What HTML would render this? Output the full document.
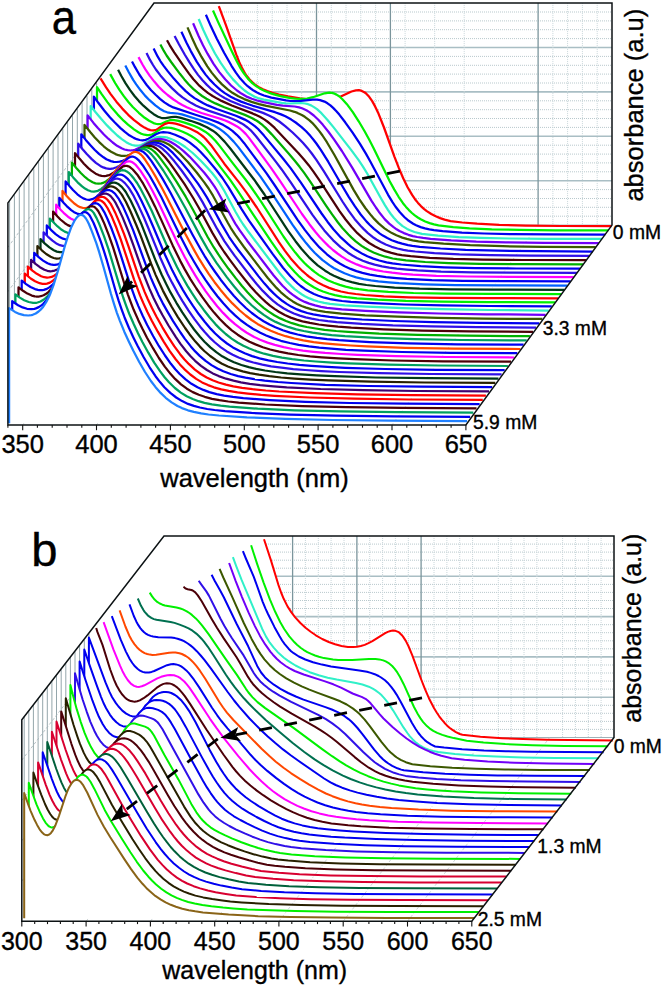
<!DOCTYPE html>
<html><head><meta charset="utf-8"><style>
html,body{margin:0;padding:0;background:#fff;}
svg{display:block;font-family:"Liberation Sans",sans-serif;}
text{fill:#000;stroke:#000;stroke-width:0.35px;}
</style></head><body>
<svg width="662" height="988" viewBox="0 0 662 988">
<rect width="662" height="988" fill="#fff"/>
<line x1="154" y1="216.2" x2="612" y2="216.2" stroke="#b9c9cd" stroke-width="1" stroke-dasharray="1 1"/>
<line x1="154" y1="207.3" x2="612" y2="207.3" stroke="#b9c9cd" stroke-width="1" stroke-dasharray="1 1"/>
<line x1="154" y1="198.5" x2="612" y2="198.5" stroke="#b9c9cd" stroke-width="1" stroke-dasharray="1 1"/>
<line x1="154" y1="189.6" x2="612" y2="189.6" stroke="#b9c9cd" stroke-width="1" stroke-dasharray="1 1"/>
<line x1="154" y1="180.7" x2="612" y2="180.7" stroke="#a9bec4" stroke-width="1.6"/>
<line x1="154" y1="171.8" x2="612" y2="171.8" stroke="#b9c9cd" stroke-width="1" stroke-dasharray="1 1"/>
<line x1="154" y1="162.9" x2="612" y2="162.9" stroke="#b9c9cd" stroke-width="1" stroke-dasharray="1 1"/>
<line x1="154" y1="154.1" x2="612" y2="154.1" stroke="#b9c9cd" stroke-width="1" stroke-dasharray="1 1"/>
<line x1="154" y1="145.2" x2="612" y2="145.2" stroke="#b9c9cd" stroke-width="1" stroke-dasharray="1 1"/>
<line x1="154" y1="136.3" x2="612" y2="136.3" stroke="#a9bec4" stroke-width="1.6"/>
<line x1="154" y1="127.4" x2="612" y2="127.4" stroke="#b9c9cd" stroke-width="1" stroke-dasharray="1 1"/>
<line x1="154" y1="118.5" x2="612" y2="118.5" stroke="#b9c9cd" stroke-width="1" stroke-dasharray="1 1"/>
<line x1="154" y1="109.7" x2="612" y2="109.7" stroke="#b9c9cd" stroke-width="1" stroke-dasharray="1 1"/>
<line x1="154" y1="100.8" x2="612" y2="100.8" stroke="#b9c9cd" stroke-width="1" stroke-dasharray="1 1"/>
<line x1="154" y1="91.9" x2="612" y2="91.9" stroke="#a9bec4" stroke-width="1.6"/>
<line x1="154" y1="83" x2="612" y2="83" stroke="#b9c9cd" stroke-width="1" stroke-dasharray="1 1"/>
<line x1="154" y1="74.1" x2="612" y2="74.1" stroke="#b9c9cd" stroke-width="1" stroke-dasharray="1 1"/>
<line x1="154" y1="65.3" x2="612" y2="65.3" stroke="#b9c9cd" stroke-width="1" stroke-dasharray="1 1"/>
<line x1="154" y1="56.4" x2="612" y2="56.4" stroke="#b9c9cd" stroke-width="1" stroke-dasharray="1 1"/>
<line x1="154" y1="47.5" x2="612" y2="47.5" stroke="#a9bec4" stroke-width="1.6"/>
<line x1="154" y1="38.6" x2="612" y2="38.6" stroke="#b9c9cd" stroke-width="1" stroke-dasharray="1 1"/>
<line x1="154" y1="29.7" x2="612" y2="29.7" stroke="#b9c9cd" stroke-width="1" stroke-dasharray="1 1"/>
<line x1="154" y1="20.9" x2="612" y2="20.9" stroke="#b9c9cd" stroke-width="1" stroke-dasharray="1 1"/>
<line x1="154" y1="12" x2="612" y2="12" stroke="#b9c9cd" stroke-width="1" stroke-dasharray="1 1"/>
<line x1="257.4" y1="3.1" x2="257.4" y2="225.1" stroke="#c9d6da" stroke-width="1" stroke-dasharray="1 1"/>
<line x1="272.2" y1="3.1" x2="272.2" y2="225.1" stroke="#c9d6da" stroke-width="1" stroke-dasharray="1 1"/>
<line x1="287" y1="3.1" x2="287" y2="225.1" stroke="#c9d6da" stroke-width="1" stroke-dasharray="1 1"/>
<line x1="301.7" y1="3.1" x2="301.7" y2="225.1" stroke="#c9d6da" stroke-width="1" stroke-dasharray="1 1"/>
<line x1="331.3" y1="3.1" x2="331.3" y2="225.1" stroke="#c9d6da" stroke-width="1" stroke-dasharray="1 1"/>
<line x1="346" y1="3.1" x2="346" y2="225.1" stroke="#c9d6da" stroke-width="1" stroke-dasharray="1 1"/>
<line x1="360.8" y1="3.1" x2="360.8" y2="225.1" stroke="#c9d6da" stroke-width="1" stroke-dasharray="1 1"/>
<line x1="375.6" y1="3.1" x2="375.6" y2="225.1" stroke="#c9d6da" stroke-width="1" stroke-dasharray="1 1"/>
<line x1="405.1" y1="3.1" x2="405.1" y2="225.1" stroke="#c9d6da" stroke-width="1" stroke-dasharray="1 1"/>
<line x1="434.7" y1="3.1" x2="434.7" y2="225.1" stroke="#c9d6da" stroke-width="1" stroke-dasharray="1 1"/>
<line x1="464.2" y1="3.1" x2="464.2" y2="225.1" stroke="#c9d6da" stroke-width="1" stroke-dasharray="1 1"/>
<line x1="552.9" y1="3.1" x2="552.9" y2="225.1" stroke="#c9d6da" stroke-width="1" stroke-dasharray="1 1"/>
<line x1="567.6" y1="3.1" x2="567.6" y2="225.1" stroke="#c9d6da" stroke-width="1" stroke-dasharray="1 1"/>
<line x1="582.4" y1="3.1" x2="582.4" y2="225.1" stroke="#c9d6da" stroke-width="1" stroke-dasharray="1 1"/>
<line x1="597.2" y1="3.1" x2="597.2" y2="225.1" stroke="#c9d6da" stroke-width="1" stroke-dasharray="1 1"/>
<line x1="316.5" y1="3.1" x2="316.5" y2="225.1" stroke="#7b959c" stroke-width="1.3"/>
<line x1="390.4" y1="3.1" x2="390.4" y2="225.1" stroke="#7b959c" stroke-width="1.3"/>
<line x1="538.1" y1="3.1" x2="538.1" y2="225.1" stroke="#7b959c" stroke-width="1.3"/>
<line x1="154" y1="225.1" x2="612" y2="225.1" stroke="#9fb2b8" stroke-width="1"/>
<line x1="9.6" y1="201.4" x2="9.6" y2="423.4" stroke="#94a6ab" stroke-width="1"/>
<line x1="14.4" y1="194.8" x2="14.4" y2="416.8" stroke="#94a6ab" stroke-width="1"/>
<line x1="19.3" y1="188.2" x2="19.3" y2="410.2" stroke="#94a6ab" stroke-width="1"/>
<line x1="24.1" y1="181.6" x2="24.1" y2="403.6" stroke="#94a6ab" stroke-width="1"/>
<line x1="28.9" y1="175" x2="28.9" y2="397" stroke="#94a6ab" stroke-width="1"/>
<line x1="33.8" y1="168.4" x2="33.8" y2="390.4" stroke="#94a6ab" stroke-width="1"/>
<line x1="38.6" y1="161.8" x2="38.6" y2="383.8" stroke="#94a6ab" stroke-width="1"/>
<line x1="43.4" y1="155.2" x2="43.4" y2="377.2" stroke="#94a6ab" stroke-width="1"/>
<line x1="48.3" y1="148.6" x2="48.3" y2="370.6" stroke="#94a6ab" stroke-width="1"/>
<line x1="53.1" y1="142" x2="53.1" y2="364" stroke="#94a6ab" stroke-width="1"/>
<line x1="58" y1="135.4" x2="58" y2="357.4" stroke="#94a6ab" stroke-width="1"/>
<line x1="62.8" y1="128.8" x2="62.8" y2="350.8" stroke="#94a6ab" stroke-width="1"/>
<line x1="67.6" y1="122.2" x2="67.6" y2="344.2" stroke="#94a6ab" stroke-width="1"/>
<line x1="72.5" y1="115.6" x2="72.5" y2="337.6" stroke="#94a6ab" stroke-width="1"/>
<line x1="77.3" y1="109" x2="77.3" y2="331" stroke="#94a6ab" stroke-width="1"/>
<line x1="82.1" y1="102.4" x2="82.1" y2="324.4" stroke="#94a6ab" stroke-width="1"/>
<line x1="87" y1="95.8" x2="87" y2="317.8" stroke="#94a6ab" stroke-width="1"/>
<line x1="91.8" y1="89.2" x2="91.8" y2="311.2" stroke="#94a6ab" stroke-width="1"/>
<line x1="96.6" y1="82.6" x2="96.6" y2="304.6" stroke="#94a6ab" stroke-width="1"/>
<line x1="7.9" y1="380.5" x2="154" y2="180.7" stroke="#a5b3b7" stroke-width="0.8" stroke-dasharray="3 2"/>
<line x1="7.9" y1="336.1" x2="154" y2="136.3" stroke="#a5b3b7" stroke-width="0.8" stroke-dasharray="3 2"/>
<line x1="7.9" y1="291.7" x2="154" y2="91.9" stroke="#a5b3b7" stroke-width="0.8" stroke-dasharray="3 2"/>
<line x1="7.9" y1="247.3" x2="154" y2="47.5" stroke="#a5b3b7" stroke-width="0.8" stroke-dasharray="3 2"/>
<line x1="22.7" y1="424.9" x2="168.8" y2="225.1" stroke="#b8c3c6" stroke-width="0.7" stroke-dasharray="3 2"/>
<line x1="96.5" y1="424.9" x2="242.6" y2="225.1" stroke="#b8c3c6" stroke-width="0.7" stroke-dasharray="3 2"/>
<line x1="170.4" y1="424.9" x2="316.5" y2="225.1" stroke="#b8c3c6" stroke-width="0.7" stroke-dasharray="3 2"/>
<line x1="244.3" y1="424.9" x2="390.4" y2="225.1" stroke="#b8c3c6" stroke-width="0.7" stroke-dasharray="3 2"/>
<line x1="318.1" y1="424.9" x2="464.2" y2="225.1" stroke="#b8c3c6" stroke-width="0.7" stroke-dasharray="3 2"/>
<line x1="392" y1="424.9" x2="538.1" y2="225.1" stroke="#b8c3c6" stroke-width="0.7" stroke-dasharray="3 2"/>
<g stroke-width="2.25" stroke-linejoin="round" fill="none">
<path d="M153.5,228.2l0-222 65.3,0 7.1,19 10.4,29.5 2.9,7.3 3,6.4 2.9,5.2 1.5,2.2 3,3.7 4.4,4.3 4.4,3.1 4.5,2.4 4.4,1.8 5.9,1.9 5.9,1.5 8.9,1.8 11.8,2 10.3,1.4 7.4,0.7 4.5,0.2 4.4-0.2 4.4-0.7 3-0.7 5.9-2.1 11.8-5.4 4.4-1.2 3-0.1 2.9,0.7 3,1.6 1.5,1.2 2.9,3.1 3,4.3 2.9,5.3 3,6.3 5.9,14.8 10.3,28.8 4.5,11.6 4.4,10.4 4.4,9 4.5,7.6 2.9,4.3 3,3.7 2.9,3.2 3,2.7 2.9,2.3 4.5,2.9 4.4,2.3 4.4,1.8 4.5,1.5 5.9,1.5 11.8,1.4 14.8,1.2 22.1,1.2 26.6,0.7 35.5,0.4 50.2,0.2 0,2z" fill="#fff"/>
<path d="M218.8,6.2l7.1,19 10.4,29.5 2.9,7.3 3,6.4 2.9,5.2 1.5,2.2 3,3.7 4.4,4.3 4.4,3.1 4.5,2.4 4.4,1.8 5.9,1.9 5.9,1.5 8.9,1.8 11.8,2 10.3,1.4 7.4,0.7 4.5,0.2 4.4-0.2 4.4-0.7 3-0.7 5.9-2.1 11.8-5.4 4.4-1.2 3-0.1 2.9,0.7 3,1.6 1.5,1.2 2.9,3.1 3,4.3 2.9,5.3 3,6.3 5.9,14.8 10.3,28.8 4.5,11.6 4.4,10.4 4.4,9 4.5,7.6 2.9,4.3 3,3.7 2.9,3.2 3,2.7 2.9,2.3 4.5,2.9 4.4,2.3 4.4,1.8 4.5,1.5 5.9,1.5 11.8,1.4 14.8,1.2 22.1,1.2 26.6,0.7 35.5,0.4 50.2,0.2" stroke="#ff0000"/>
<path d="M150.4,232.5l0-222 62.6,0 5.4,12.1 13.3,28.3 4.4,9.1 4.4,8.1 3,4.7 4.4,5.8 4.4,4.5 4.5,3.5 2.9,1.8 4.5,2.3 7.3,2.9 8.9,2.5 10.3,2 4.5,0.6 4.4,0.2 4.4-0.1 3-0.3 5.9-1.3 11.8-3.9 4.5-0.6 2.9,0.2 1.5,0.4 2.9,1.3 3,1.9 2.9,2.7 4.5,5 5.9,8 5.9,9.1 5.9,10 4.4,8 4.5,8.6 16.2,33.3 4.5,8.2 4.4,7.4 4.4,6.4 3,3.7 2.9,3.2 3,2.9 2.9,2.4 3,2.1 2.9,1.8 4.5,2.2 4.4,1.6 4.4,1.3 4.5,1 14.7,1.7 16.3,1.2 22.2,1 28,0.6 35.5,0.4 53.2,0.1 0,2.1z" fill="#fff"/>
<path d="M213,10.5l5.4,12.1 13.3,28.3 4.4,9.1 4.4,8.1 3,4.7 4.4,5.8 4.4,4.5 4.5,3.5 2.9,1.8 4.5,2.3 7.3,2.9 8.9,2.5 10.3,2 4.5,0.6 4.4,0.2 4.4-0.1 3-0.3 5.9-1.3 11.8-3.9 4.5-0.6 2.9,0.2 1.5,0.4 2.9,1.3 3,1.9 2.9,2.7 4.5,5 5.9,8 5.9,9.1 5.9,10 4.4,8 4.5,8.6 16.2,33.3 4.5,8.2 4.4,7.4 4.4,6.4 3,3.7 2.9,3.2 3,2.9 2.9,2.4 3,2.1 2.9,1.8 4.5,2.2 4.4,1.6 4.4,1.3 4.5,1 14.7,1.7 16.3,1.2 22.2,1 28,0.6 35.5,0.4 53.2,0.1" stroke="#00f000"/>
<path d="M147.3,236.7l0-222 58.6,0 4.9,11.4 5.9,12.4 7.4,14.2 7.4,13.1 4.4,6.9 4.4,5.9 4.5,4.9 2.9,2.7 3,2.3 2.9,2.1 3,1.7 2.9,1.5 4.5,1.7 7.4,2.1 14.7,2.8 4.5,0.6 4.4,0.2 5.9-0.3 11.8-1.3 4.4,0 3,0.5 4.4,1.5 3,1.7 2.9,2.1 3,2.7 3,3.1 2.9,3.4 5.9,7.7 7.4,10.4 7.4,11.2 5.9,9.7 4.4,7.9 17.8,33.3 4.4,7.3 2.9,4.4 4.5,5.8 4.4,4.7 4.4,3.8 4.5,2.9 2.9,1.5 4.5,1.9 4.4,1.3 4.4,1 4.5,0.7 8.8,1 19.2,1.5 22.2,0.9 28.1,0.7 36.9,0.3 56.1,0.2 0,2z" fill="#fff"/>
<path d="M205.9,14.7l4.9,11.4 5.9,12.4 7.4,14.2 7.4,13.1 4.4,6.9 4.4,5.9 4.5,4.9 2.9,2.7 3,2.3 2.9,2.1 3,1.7 2.9,1.5 4.5,1.7 7.4,2.1 14.7,2.8 4.5,0.6 4.4,0.2 5.9-0.3 11.8-1.3 4.4,0 3,0.5 4.4,1.5 3,1.7 2.9,2.1 3,2.7 3,3.1 2.9,3.4 5.9,7.7 7.4,10.4 7.4,11.2 5.9,9.7 4.4,7.9 17.8,33.3 4.4,7.3 2.9,4.4 4.5,5.8 4.4,4.7 4.4,3.8 4.5,2.9 2.9,1.5 4.5,1.9 4.4,1.3 4.4,1 4.5,0.7 8.8,1 19.2,1.5 22.2,0.9 28.1,0.7 36.9,0.3 56.1,0.2" stroke="#0000f0"/>
<path d="M144.1,241l0-222 54.6,0 4.5,10.7 5.9,12.6 5.9,11.2 5.9,9.7 5.9,8.5 6,7.4 5.9,6.2 5.9,5.2 4.4,3.1 4.4,2.5 4.5,1.9 5.9,1.6 17.7,3.2 4.4,0.6 4.5,0.1 10.3-0.5 4.4,0.5 3,0.7 3,1.2 2.9,1.7 3,2.1 4.4,4 5.9,6.5 5.9,7.2 17.7,22.7 7.4,10.1 4.5,6.6 4.4,7.2 13.3,24 4.4,7.6 3,4.7 2.9,4.2 3,3.7 4.4,4.7 4.4,3.7 4.5,2.8 2.9,1.4 4.5,1.7 7.4,1.9 16.2,1.8 20.7,1.4 22.1,0.8 28.1,0.6 36.9,0.3 56.2,0.1 0,2.1z" fill="#fff"/>
<path d="M198.7,19l4.5,10.7 5.9,12.6 5.9,11.2 5.9,9.7 5.9,8.5 6,7.4 5.9,6.2 5.9,5.2 4.4,3.1 4.4,2.5 4.5,1.9 5.9,1.6 17.7,3.2 4.4,0.6 4.5,0.1 10.3-0.5 4.4,0.5 3,0.7 3,1.2 2.9,1.7 3,2.1 4.4,4 5.9,6.5 5.9,7.2 17.7,22.7 7.4,10.1 4.5,6.6 4.4,7.2 13.3,24 4.4,7.6 3,4.7 2.9,4.2 3,3.7 4.4,4.7 4.4,3.7 4.5,2.8 2.9,1.4 4.5,1.7 7.4,1.9 16.2,1.8 20.7,1.4 22.1,0.8 28.1,0.6 36.9,0.3 56.2,0.1" stroke="#30f0c8"/>
<path d="M141,245.2l0-222 52.1,0 5.5,12.8 4.4,9.3 4.5,8.4 5.9,9.9 5.9,8.5 5.9,7.2 5.9,6.2 5.9,5 4.4,3.1 5.9,3.3 4.5,1.9 5.9,1.9 5.9,1.5 13.3,2.7 5.9,0.8 11.8,0.8 4.5,0.9 2.9,0.9 4.4,2 3,1.8 4.4,3.4 4.5,4.2 4.4,4.9 5.9,7.4 5.9,8.1 7.4,10.9 10.3,16.6 19.2,33 4.5,6.9 2.9,4.2 5.9,7.4 4.5,4.5 4.4,3.6 3,2.1 2.9,1.7 4.4,2.1 4.5,1.7 4.4,1.3 4.4,0.9 5.9,0.9 7.4,0.9 20.7,1.6 25.1,1.2 29.6,0.7 38.4,0.5 54.6,0.3 0,2.1z" fill="#fff"/>
<path d="M193.1,23.2l5.5,12.8 4.4,9.3 4.5,8.4 5.9,9.9 5.9,8.5 5.9,7.2 5.9,6.2 5.9,5 4.4,3.1 5.9,3.3 4.5,1.9 5.9,1.9 5.9,1.5 13.3,2.7 5.9,0.8 11.8,0.8 4.5,0.9 2.9,0.9 4.4,2 3,1.8 4.4,3.4 4.5,4.2 4.4,4.9 5.9,7.4 5.9,8.1 7.4,10.9 10.3,16.6 19.2,33 4.5,6.9 2.9,4.2 5.9,7.4 4.5,4.5 4.4,3.6 3,2.1 2.9,1.7 4.4,2.1 4.5,1.7 4.4,1.3 4.4,0.9 5.9,0.9 7.4,0.9 20.7,1.6 25.1,1.2 29.6,0.7 38.4,0.5 54.6,0.3" stroke="#7000f8"/>
<path d="M137.8,249.4l0-222 49.7,0 5,11.7 4.4,9.3 4.5,8.3 5.9,9.7 4.4,6.2 5.9,7.2 4.4,4.6 6,5.2 4.4,3.2 5.9,3.5 5.9,2.8 7.4,2.8 7.4,2.2 7.4,1.8 23.6,4.6 4.4,1.3 3,1.1 4.4,2.1 3,1.8 4.4,3.3 3,2.7 2.9,3.2 4.4,5.4 3,4.1 4.4,6.7 7.4,12.6 19.2,34.8 5.9,9.7 5.9,8.7 6,7.6 2.9,3.3 4.4,4.5 5.9,4.9 3,2.1 4.4,2.7 4.5,2.2 5.9,2.3 4.4,1.3 5.9,1.4 5.9,1 5.9,0.8 19.2,1.6 26.6,1.5 32.5,1 39.9,0.7 53.2,0.3 0,2.2z" fill="#fff"/>
<path d="M187.5,27.4l5,11.7 4.4,9.3 4.5,8.3 5.9,9.7 4.4,6.2 5.9,7.2 4.4,4.6 6,5.2 4.4,3.2 5.9,3.5 5.9,2.8 7.4,2.8 7.4,2.2 7.4,1.8 23.6,4.6 4.4,1.3 3,1.1 4.4,2.1 3,1.8 4.4,3.3 3,2.7 2.9,3.2 4.4,5.4 3,4.1 4.4,6.7 7.4,12.6 19.2,34.8 5.9,9.7 5.9,8.7 6,7.6 2.9,3.3 4.4,4.5 5.9,4.9 3,2.1 4.4,2.7 4.5,2.2 5.9,2.3 4.4,1.3 5.9,1.4 5.9,1 5.9,0.8 19.2,1.6 26.6,1.5 32.5,1 39.9,0.7 53.2,0.3" stroke="#3c5800"/>
<path d="M134.7,253.7l0-222 46.7,0 5,10.7 4.4,8.7 5.9,10.5 4.5,6.9 4.4,6.1 4.4,5.3 4.5,4.6 5.9,5.3 4.4,3.3 5.9,3.6 4.5,2.3 5.9,2.6 5.9,2.2 5.9,2 22.1,6.4 6,2.2 4.4,1.9 5.9,3.3 4.4,2.9 5.9,4.6 4.5,4.2 4.4,4.8 3,3.6 2.9,3.8 4.4,6.4 7.4,11.8 14.8,25.5 5.9,9.9 5.9,9.1 5.9,8.3 5.9,7.1 3,3.1 4.4,4.2 5.9,4.7 3,2 4.4,2.5 4.5,2.1 5.9,2.2 4.4,1.3 5.9,1.4 4.4,0.8 7.4,0.9 20.7,1.7 25.1,1.3 32.5,0.9 39.9,0.5 54.7,0.3 0,2.2z" fill="#fff"/>
<path d="M181.4,31.7l5,10.7 4.4,8.7 5.9,10.5 4.5,6.9 4.4,6.1 4.4,5.3 4.5,4.6 5.9,5.3 4.4,3.3 5.9,3.6 4.5,2.3 5.9,2.6 5.9,2.2 5.9,2 22.1,6.4 6,2.2 4.4,1.9 5.9,3.3 4.4,2.9 5.9,4.6 4.5,4.2 4.4,4.8 3,3.6 2.9,3.8 4.4,6.4 7.4,11.8 14.8,25.5 5.9,9.9 5.9,9.1 5.9,8.3 5.9,7.1 3,3.1 4.4,4.2 5.9,4.7 3,2 4.4,2.5 4.5,2.1 5.9,2.2 4.4,1.3 5.9,1.4 4.4,0.8 7.4,0.9 20.7,1.7 25.1,1.3 32.5,0.9 39.9,0.5 54.7,0.3" stroke="#0000f0"/>
<path d="M131.6,257.9l0-222 43,0 4.2,8.1 5.9,10.5 4.5,7.4 4.4,6.8 4.4,6.2 4.5,5.4 4.4,4.6 4.4,4.1 4.5,3.4 4.4,3 4.4,2.6 5.9,3 10.4,4.3 22.1,7.6 5.9,2.6 4.5,2.2 5.9,3.8 5.9,4.6 7.4,6.4 5.9,5.7 4.4,4.6 4.5,5.1 4.4,5.6 4.4,6.2 7.4,11.2 19.2,31.1 5.9,8.9 5.9,8 5.9,6.9 3,3.1 4.4,4.2 5.9,4.7 3,1.9 4.4,2.6 4.5,2.2 5.9,2.3 5.9,1.7 5.9,1.4 4.4,0.7 7.4,0.9 19.2,1.6 25.1,1.3 31,0.7 39.9,0.5 59.1,0.2 0,2.1z" fill="#fff"/>
<path d="M174.6,35.9l4.2,8.1 5.9,10.5 4.5,7.4 4.4,6.8 4.4,6.2 4.5,5.4 4.4,4.6 4.4,4.1 4.5,3.4 4.4,3 4.4,2.6 5.9,3 10.4,4.3 22.1,7.6 5.9,2.6 4.5,2.2 5.9,3.8 5.9,4.6 7.4,6.4 5.9,5.7 4.4,4.6 4.5,5.1 4.4,5.6 4.4,6.2 7.4,11.2 19.2,31.1 5.9,8.9 5.9,8 5.9,6.9 3,3.1 4.4,4.2 5.9,4.7 3,1.9 4.4,2.6 4.5,2.2 5.9,2.3 5.9,1.7 5.9,1.4 4.4,0.7 7.4,0.9 19.2,1.6 25.1,1.3 31,0.7 39.9,0.5 59.1,0.2" stroke="#3010e8"/>
<path d="M128.4,262.2l0-222 38.6,0 2.8,5.1 4.4,7 8.9,13 5.9,8.3 4.4,5.7 3,3.3 2.9,3.1 4.5,4 4.4,3.4 4.4,2.9 4.5,2.6 4.4,2.3 10.3,4.6 20.7,7.9 7.4,3.4 4.4,2.6 3,2.1 2.9,2.3 4.5,4.1 23.6,25 5.9,6.8 4.5,5.5 4.4,6 5.9,8.5 20.7,31.6 5.9,8.2 5.9,7.3 5.9,6.4 5.9,5.3 5.9,4.5 5.9,3.5 4.5,2.2 5.9,2.4 5.9,1.8 5.9,1.4 4.4,0.9 8.9,1 19.2,1.6 23.6,1.1 29.6,0.7 39.9,0.4 63.5,0.1 0,2.1z" fill="#fff"/>
<path d="M167,40.2l2.8,5.1 4.4,7 8.9,13 5.9,8.3 4.4,5.7 3,3.3 2.9,3.1 4.5,4 4.4,3.4 4.4,2.9 4.5,2.6 4.4,2.3 10.3,4.6 20.7,7.9 7.4,3.4 4.4,2.6 3,2.1 2.9,2.3 4.5,4.1 23.6,25 5.9,6.8 4.5,5.5 4.4,6 5.9,8.5 20.7,31.6 5.9,8.2 5.9,7.3 5.9,6.4 5.9,5.3 5.9,4.5 5.9,3.5 4.5,2.2 5.9,2.4 5.9,1.8 5.9,1.4 4.4,0.9 8.9,1 19.2,1.6 23.6,1.1 29.6,0.7 39.9,0.4 63.5,0.1" stroke="#4c0008"/>
<path d="M125.3,266.4l0-222 35.1,0 3.3,6.3 2.9,4.8 4.5,6.5 8.8,11.8 4.5,5.6 4.4,5.1 4.4,4.4 4.5,3.8 4.4,3.3 4.4,2.8 4.5,2.4 4.4,2.2 8.9,3.8 20.6,7.7 7.4,3.3 4.5,2.6 2.9,2 3,2.4 2.9,2.7 5.9,6.2 17.8,20.1 5.9,7 4.4,5.6 4.4,5.9 5.9,8.4 16.3,24.7 5.9,8.6 5.9,8.1 4.4,5.5 6,6.5 2.9,2.9 4.4,4 5.9,4.5 3,1.9 4.4,2.5 4.5,2.2 5.9,2.3 5.9,1.9 7.4,1.8 4.4,0.7 8.9,1.1 19.2,1.7 23.6,1.1 31,0.8 39.9,0.3 63.5,0.2 0,2z" fill="#fff"/>
<path d="M160.4,44.4l3.3,6.3 2.9,4.8 4.5,6.5 8.8,11.8 4.5,5.6 4.4,5.1 4.4,4.4 4.5,3.8 4.4,3.3 4.4,2.8 4.5,2.4 4.4,2.2 8.9,3.8 20.6,7.7 7.4,3.3 4.5,2.6 2.9,2 3,2.4 2.9,2.7 5.9,6.2 17.8,20.1 5.9,7 4.4,5.6 4.4,5.9 5.9,8.4 16.3,24.7 5.9,8.6 5.9,8.1 4.4,5.5 6,6.5 2.9,2.9 4.4,4 5.9,4.5 3,1.9 4.4,2.5 4.5,2.2 5.9,2.3 5.9,1.9 7.4,1.8 4.4,0.7 8.9,1.1 19.2,1.7 23.6,1.1 31,0.8 39.9,0.3 63.5,0.2" stroke="#00b000"/>
<path d="M122.1,270.6l0-222 31.5,0 4,7.8 2.9,4.9 3,4.3 4.4,5.8 5.9,7.2 6,6.7 5.9,5.8 4.4,3.7 4.4,3.3 4.5,2.7 4.4,2.4 4.4,2.2 8.9,3.6 19.2,6.8 4.4,1.8 4.5,2 4.4,2.5 2.9,2 3,2.2 3,2.7 5.9,6.6 19.2,23.1 7.4,9.4 10.3,14.5 20.7,30.9 5.9,8.2 5.9,7.5 7.4,8.2 7.4,6.8 2.9,2.4 4.5,3.2 7.3,4.3 4.5,2.2 5.9,2.3 5.9,1.9 7.4,1.8 5.9,1 8.8,1.2 19.3,1.7 23.6,1.1 31,0.8 41.4,0.4 63.5,0.1 0,2z" fill="#fff"/>
<path d="M153.6,48.6l4,7.8 2.9,4.9 3,4.3 4.4,5.8 5.9,7.2 6,6.7 5.9,5.8 4.4,3.7 4.4,3.3 4.5,2.7 4.4,2.4 4.4,2.2 8.9,3.6 19.2,6.8 4.4,1.8 4.5,2 4.4,2.5 2.9,2 3,2.2 3,2.7 5.9,6.6 19.2,23.1 7.4,9.4 10.3,14.5 20.7,30.9 5.9,8.2 5.9,7.5 7.4,8.2 7.4,6.8 2.9,2.4 4.5,3.2 7.3,4.3 4.5,2.2 5.9,2.3 5.9,1.9 7.4,1.8 5.9,1 8.8,1.2 19.3,1.7 23.6,1.1 31,0.8 41.4,0.4 63.5,0.1" stroke="#0000f0"/>
<path d="M119,274.9l0-222 27.5,0 3.5,7 3,5.1 2.9,4.5 4.5,5.9 5.9,6.9 5.9,6.1 5.9,5.4 4.4,3.6 4.5,3 4.4,2.7 4.4,2.3 4.5,2.1 8.8,3.4 19.2,6.4 4.5,1.7 4.4,2 4.4,2.4 3,1.9 2.9,2.2 3,2.6 2.9,3.1 3,3.5 19.2,24.7 5.9,7.8 8.9,12.6 22.1,33 5.9,8.1 5.9,7.5 4.5,5.2 4.4,4.7 7.4,6.8 7.4,5.6 4.4,2.8 4.4,2.4 6,2.8 5.9,2.2 5.9,1.7 7.4,1.8 7.3,1.2 7.4,1 10.4,1 10.3,0.8 23.7,1.2 31,0.7 41.3,0.4 63.6,0.1 0,2.1z" fill="#fff"/>
<path d="M146.5,52.9l3.5,7 3,5.1 2.9,4.5 4.5,5.9 5.9,6.9 5.9,6.1 5.9,5.4 4.4,3.6 4.5,3 4.4,2.7 4.4,2.3 4.5,2.1 8.8,3.4 19.2,6.4 4.5,1.7 4.4,2 4.4,2.4 3,1.9 2.9,2.2 3,2.6 2.9,3.1 3,3.5 19.2,24.7 5.9,7.8 8.9,12.6 22.1,33 5.9,8.1 5.9,7.5 4.5,5.2 4.4,4.7 7.4,6.8 7.4,5.6 4.4,2.8 4.4,2.4 6,2.8 5.9,2.2 5.9,1.7 7.4,1.8 7.3,1.2 7.4,1 10.4,1 10.3,0.8 23.7,1.2 31,0.7 41.3,0.4 63.6,0.1" stroke="#3010e8"/>
<path d="M115.9,279.1l0-222 22.6,0 4,7.4 2.9,4.9 4.4,6.5 4.5,5.7 4.4,5.1 4.4,4.4 4.5,3.9 5.9,4.5 4.4,2.9 4.4,2.5 4.5,2.3 5.9,2.6 8.8,3.2 19.2,5.9 4.5,1.6 4.4,1.9 4.4,2.3 3,1.7 3,2.1 2.9,2.6 3,3 2.9,3.5 22.2,30.3 8.8,12.8 22.2,33.3 7.4,10.2 5.9,7.6 4.4,5.2 4.5,4.7 4.4,4.4 4.4,3.9 4.5,3.5 4.4,3.1 4.4,2.8 4.5,2.3 5.9,2.7 5.9,2.2 5.9,1.8 7.4,1.8 7.4,1.3 8.8,1.2 10.4,1.1 10.3,0.8 23.6,1.2 31.1,0.7 41.3,0.4 65,0.2 0,2z" fill="#fff"/>
<path d="M138.5,57.1l4,7.4 2.9,4.9 4.4,6.5 4.5,5.7 4.4,5.1 4.4,4.4 4.5,3.9 5.9,4.5 4.4,2.9 4.4,2.5 4.5,2.3 5.9,2.6 8.8,3.2 19.2,5.9 4.5,1.6 4.4,1.9 4.4,2.3 3,1.7 3,2.1 2.9,2.6 3,3 2.9,3.5 22.2,30.3 8.8,12.8 22.2,33.3 7.4,10.2 5.9,7.6 4.4,5.2 4.5,4.7 4.4,4.4 4.4,3.9 4.5,3.5 4.4,3.1 4.4,2.8 4.5,2.3 5.9,2.7 5.9,2.2 5.9,1.8 7.4,1.8 7.4,1.3 8.8,1.2 10.4,1.1 10.3,0.8 23.6,1.2 31.1,0.7 41.3,0.4 65,0.2" stroke="#ff00ff"/>
<path d="M112.7,283.4l0-222 19.3,0 2.9,5.5 4.4,7.6 3,4.4 4.4,6.1 4.4,5.2 4.5,4.6 4.4,4.1 4.4,3.5 4.5,2.8 4.4,2.2 22.1,7.4 14.8,4.7 8.9,3.4 4.4,2.2 4.4,2.6 4.5,3.2 4.4,3.9 3,3.1 4.4,5.3 22.2,30 8.8,12.8 22.2,33.6 7.4,10.3 5.9,7.5 4.4,5.2 4.4,4.8 7.4,6.9 4.5,3.5 4.4,3.2 4.4,2.8 4.5,2.4 5.9,2.7 5.9,2.2 5.9,1.8 7.4,1.7 7.4,1.3 8.8,1.2 10.4,1 10.3,0.8 25.1,1.2 31,0.7 41.4,0.4 66.5,0.1 0,2.1z" fill="#fff"/>
<path d="M132,61.4l2.9,5.5 4.4,7.6 3,4.4 4.4,6.1 4.4,5.2 4.5,4.6 4.4,4.1 4.4,3.5 4.5,2.8 4.4,2.2 22.1,7.4 14.8,4.7 8.9,3.4 4.4,2.2 4.4,2.6 4.5,3.2 4.4,3.9 3,3.1 4.4,5.3 22.2,30 8.8,12.8 22.2,33.6 7.4,10.3 5.9,7.5 4.4,5.2 4.4,4.8 7.4,6.9 4.5,3.5 4.4,3.2 4.4,2.8 4.5,2.4 5.9,2.7 5.9,2.2 5.9,1.8 7.4,1.7 7.4,1.3 8.8,1.2 10.4,1 10.3,0.8 25.1,1.2 31,0.7 41.4,0.4 66.5,0.1" stroke="#0000f0"/>
<path d="M109.6,287.6l0-222 15.7,0 3.5,6.7 4.4,7.6 3,4.4 4.4,6 4.4,5.3 4.5,4.6 5.9,5.2 4.4,3.3 4.4,2.5 3,1.1 2.9,0.6 7.4,0.6 4.5,0.9 16.2,5.1 8.9,3.1 5.9,2.5 5.9,3.3 4.4,3.2 4.5,3.9 5.9,6.1 4.4,5.3 22.2,29.5 10.3,15 22.2,33.8 7.4,10.3 5.9,7.6 4.4,5.2 4.4,4.7 7.4,6.8 7.4,5.6 4.4,2.8 4.5,2.4 5.9,2.7 5.9,2.2 5.9,1.8 7.4,1.8 7.4,1.2 7.3,1 10.4,1 10.3,0.8 25.1,1.2 31.1,0.8 42.8,0.3 69.4,0.2 0,2z" fill="#fff"/>
<path d="M125.3,65.6l3.5,6.7 4.4,7.6 3,4.4 4.4,6 4.4,5.3 4.5,4.6 5.9,5.2 4.4,3.3 4.4,2.5 3,1.1 2.9,0.6 7.4,0.6 4.5,0.9 16.2,5.1 8.9,3.1 5.9,2.5 5.9,3.3 4.4,3.2 4.5,3.9 5.9,6.1 4.4,5.3 22.2,29.5 10.3,15 22.2,33.8 7.4,10.3 5.9,7.6 4.4,5.2 4.4,4.7 7.4,6.8 7.4,5.6 4.4,2.8 4.5,2.4 5.9,2.7 5.9,2.2 5.9,1.8 7.4,1.8 7.4,1.2 7.3,1 10.4,1 10.3,0.8 25.1,1.2 31.1,0.8 42.8,0.3 69.4,0.2" stroke="#0060ff"/>
<path d="M106.4,291.8l0-222 11.7,0 3.1,6 4.4,7.6 4.5,6.7 4.4,5.9 4.4,5.1 4.5,4.6 5.9,5.2 4.4,3.3 4.4,2.5 3,1.1 1.5,0.3 2.9,0.1 5.9-1.1 3-0.2 1.5,0 2.9,0.5 3,0.7 8.8,2.7 8.9,3.1 7.4,3.3 5.9,3.5 3,2.2 2.9,2.6 5.9,6.1 5.9,7.1 23.7,31 10.3,14.8 23.6,36.3 7.4,10.4 5.9,7.6 7.4,8.3 4.5,4.3 4.4,3.9 7.4,5.4 4.4,2.7 4.4,2.3 6,2.7 5.9,2.1 5.9,1.7 7.4,1.6 7.3,1.2 8.9,1 19.2,1.6 25.1,1.1 31.1,0.6 42.8,0.4 70.9,0.1 0,2z" fill="#fff"/>
<path d="M118.1,69.8l3.1,6 4.4,7.6 4.5,6.7 4.4,5.9 4.4,5.1 4.5,4.6 5.9,5.2 4.4,3.3 4.4,2.5 3,1.1 1.5,0.3 2.9,0.1 5.9-1.1 3-0.2 1.5,0 2.9,0.5 3,0.7 8.8,2.7 8.9,3.1 7.4,3.3 5.9,3.5 3,2.2 2.9,2.6 5.9,6.1 5.9,7.1 23.7,31 10.3,14.8 23.6,36.3 7.4,10.4 5.9,7.6 7.4,8.3 4.5,4.3 4.4,3.9 7.4,5.4 4.4,2.7 4.4,2.3 6,2.7 5.9,2.1 5.9,1.7 7.4,1.6 7.3,1.2 8.9,1 19.2,1.6 25.1,1.1 31.1,0.6 42.8,0.4 70.9,0.1" stroke="#003818"/>
<path d="M103.3,296.1l0-222 6.9,0 4.9,8.9 4.5,7.1 4.4,6.3 4.4,5.6 4.4,5 6,5.8 5.9,5 4.4,3 4.4,2.3 3,0.9 1.5,0.2 2.9-0.4 1.5-0.5 4.4-2.1 3-1 1.5-0.2 2.9,0.1 4.4,0.8 6,1.7 5.9,2 4.4,1.7 4.4,2 5.9,3.4 3,2.2 2.9,2.5 4.5,4.6 4.4,5.4 13.3,17.5 11.8,15.1 5.9,8 10.4,15.1 22.1,34.4 5.9,8.4 5.9,7.7 4.5,5.3 4.4,4.8 3,2.9 4.4,3.9 3,2.4 4.4,3.2 4.4,2.7 4.4,2.4 6,2.6 5.9,2.1 5.9,1.7 7.4,1.7 5.9,0.9 8.8,1.1 20.7,1.6 25.1,1.1 32.5,0.6 44.4,0.3 70.9,0.2 0,2z" fill="#fff"/>
<path d="M110.2,74.1l4.9,8.9 4.5,7.1 4.4,6.3 4.4,5.6 4.4,5 6,5.8 5.9,5 4.4,3 4.4,2.3 3,0.9 1.5,0.2 2.9-0.4 1.5-0.5 4.4-2.1 3-1 1.5-0.2 2.9,0.1 4.4,0.8 6,1.7 5.9,2 4.4,1.7 4.4,2 5.9,3.4 3,2.2 2.9,2.5 4.5,4.6 4.4,5.4 13.3,17.5 11.8,15.1 5.9,8 10.4,15.1 22.1,34.4 5.9,8.4 5.9,7.7 4.5,5.3 4.4,4.8 3,2.9 4.4,3.9 3,2.4 4.4,3.2 4.4,2.7 4.4,2.4 6,2.6 5.9,2.1 5.9,1.7 7.4,1.7 5.9,0.9 8.8,1.1 20.7,1.6 25.1,1.1 32.5,0.6 44.4,0.3 70.9,0.2" stroke="#00f000"/>
<path d="M100.2,300.3l0-222 0.3,0 5.6,9 4.4,6.5 5.9,7.9 5.9,6.9 5.9,6.2 5.9,5.3 5.9,4.6 4.5,2.9 2.9,1.5 3,1 2.9,0.3 1.5-0.2 1.5-0.5 1.5-0.8 4.4-3.3 3-1.8 2.9-0.8 1.5-0.2 2.9,0.3 3,0.6 4.4,1.2 5.9,2.1 4.5,1.8 4.4,2.1 3,1.7 2.9,2 3,2.4 2.9,2.9 4.5,5.3 13.3,18.5 14.7,18.7 7.4,9.9 10.4,15.2 22.1,34.6 5.9,8.5 5.9,7.8 7.4,8.4 4.5,4.4 4.4,3.8 2.9,2.3 4.5,3.1 4.4,2.7 4.4,2.2 5.9,2.6 6,2 5.9,1.6 7.3,1.5 7.4,1 8.9,1 19.2,1.3 25.1,1 32.5,0.6 44.3,0.3 72.4,0.1 0,2z" fill="#fff"/>
<path d="M100.5,78.3l5.6,9 4.4,6.5 5.9,7.9 5.9,6.9 5.9,6.2 5.9,5.3 5.9,4.6 4.5,2.9 2.9,1.5 3,1 2.9,0.3 1.5-0.2 1.5-0.5 1.5-0.8 4.4-3.3 3-1.8 2.9-0.8 1.5-0.2 2.9,0.3 3,0.6 4.4,1.2 5.9,2.1 4.5,1.8 4.4,2.1 3,1.7 2.9,2 3,2.4 2.9,2.9 4.5,5.3 13.3,18.5 14.7,18.7 7.4,9.9 10.4,15.2 22.1,34.6 5.9,8.5 5.9,7.8 7.4,8.4 4.5,4.4 4.4,3.8 2.9,2.3 4.5,3.1 4.4,2.7 4.4,2.2 5.9,2.6 6,2 5.9,1.6 7.3,1.5 7.4,1 8.9,1 19.2,1.3 25.1,1 32.5,0.6 44.3,0.3 72.4,0.1" stroke="#ff0000"/>
<path d="M97,304.6l0-217.4 4.5,6.7 5.9,8.2 4.4,5.7 5.9,6.8 5.9,6.1 4.4,4 6,4.7 4.4,2.8 2.9,1.5 3,1 2.9,0.5 1.5,0 3-0.7 1.5-0.6 7.3-4.8 3-1.2 3-0.4 4.4,0.4 2.9,0.7 4.5,1.4 4.4,1.8 4.4,2 4.5,2.4 2.9,1.9 3,2.2 2.9,2.5 4.5,4.5 4.4,5.3 20.7,27 7.4,10.7 16.2,24.9 17.7,26.5 8.9,12.6 7.4,9.6 7.4,8.4 4.4,4.4 3,2.6 2.9,2.4 4.5,3.1 4.4,2.7 4.4,2.2 4.4,1.8 6,2 5.9,1.6 7.4,1.5 4.4,0.6 10.3,1.1 20.7,1.4 28.1,1.2 35.4,0.7 47.3,0.5 66.5,0.3 0,2.2z" fill="#fff"/>
<path d="M97,304.6l0-217.4 4.5,6.7 5.9,8.2 4.4,5.7 5.9,6.8 5.9,6.1 4.4,4 6,4.7 4.4,2.8 2.9,1.5 3,1 2.9,0.5 1.5,0 3-0.7 1.5-0.6 7.3-4.8 3-1.2 3-0.4 4.4,0.4 2.9,0.7 4.5,1.4 4.4,1.8 4.4,2 4.5,2.4 2.9,1.9 3,2.2 2.9,2.5 4.5,4.5 4.4,5.3 20.7,27 7.4,10.7 16.2,24.9 17.7,26.5 8.9,12.6 7.4,9.6 7.4,8.4 4.4,4.4 3,2.6 2.9,2.4 4.5,3.1 4.4,2.7 4.4,2.2 4.4,1.8 6,2 5.9,1.6 7.4,1.5 4.4,0.6 10.3,1.1 20.7,1.4 28.1,1.2 35.4,0.7 47.3,0.5 66.5,0.3" stroke="#00f000"/>
<path d="M93.9,308.8l0-212.2 4.4,6.2 5.9,7.7 5.9,7 4.5,4.8 5.9,5.8 4.4,3.8 4.4,3.4 4.5,2.6 2.9,1.3 3,0.8 2.9,0.3 1.5-0.2 1.5-0.2 2.9-1.1 7.4-4.5 3-1.3 1.5-0.5 2.9-0.4 4.4,0.4 3,0.7 4.4,1.5 7.4,3.4 4.4,2.5 3,2 5.9,4.7 4.4,4.2 6,6.4 10.3,12.4 5.9,7.7 5.9,8.9 13.3,22.3 7.4,11.5 23.6,33.2 10.4,13.8 7.4,8.6 4.4,4.5 2.9,2.7 3,2.5 4.4,3.2 4.5,2.6 4.4,2.2 4.4,1.8 5.9,1.9 5.9,1.4 6,1 5.9,0.9 8.8,0.8 22.2,1.4 31,1.3 38.4,0.9 47.3,0.6 62,0.4 0,2.4z" fill="#fff"/>
<path d="M93.9,308.8l0-212.2 4.4,6.2 5.9,7.7 5.9,7 4.5,4.8 5.9,5.8 4.4,3.8 4.4,3.4 4.5,2.6 2.9,1.3 3,0.8 2.9,0.3 1.5-0.2 1.5-0.2 2.9-1.1 7.4-4.5 3-1.3 1.5-0.5 2.9-0.4 4.4,0.4 3,0.7 4.4,1.5 7.4,3.4 4.4,2.5 3,2 5.9,4.7 4.4,4.2 6,6.4 10.3,12.4 5.9,7.7 5.9,8.9 13.3,22.3 7.4,11.5 23.6,33.2 10.4,13.8 7.4,8.6 4.4,4.5 2.9,2.7 3,2.5 4.4,3.2 4.5,2.6 4.4,2.2 4.4,1.8 5.9,1.9 5.9,1.4 6,1 5.9,0.9 8.8,0.8 22.2,1.4 31,1.3 38.4,0.9 47.3,0.6 62,0.4" stroke="#0000f0"/>
<path d="M90.7,313l0-207 4.5,5.7 5.9,7.1 5.9,6.6 4.4,4.5 5.9,5.6 4.5,3.6 4.4,3.1 2.9,1.6 3,1.2 3,0.6 2.9,0 1.5-0.2 1.5-0.4 2.9-1.2 7.4-4.3 4.4-1.9 1.5-0.4 3-0.4 4.4,0.2 3,0.7 2.9,1.1 3,1.2 4.4,2.3 4.4,2.7 3,2 7.4,6 7.4,7 7.3,7.7 4.5,5 4.4,5.6 3,4.3 4.4,7.2 11.8,21.9 4.4,7.6 3,4.7 5.9,8.3 31,41 7.4,8.6 4.5,4.5 2.9,2.7 3,2.3 4.4,3.1 2.9,1.7 4.5,2.2 4.4,1.7 4.4,1.4 6,1.4 5.9,0.9 14.7,1.5 22.2,1.3 35.5,1.5 39.8,1.1 47.3,0.8 59.1,0.5 0,2.5z" fill="#fff"/>
<path d="M90.7,313l0-207 4.5,5.7 5.9,7.1 5.9,6.6 4.4,4.5 5.9,5.6 4.5,3.6 4.4,3.1 2.9,1.6 3,1.2 3,0.6 2.9,0 1.5-0.2 1.5-0.4 2.9-1.2 7.4-4.3 4.4-1.9 1.5-0.4 3-0.4 4.4,0.2 3,0.7 2.9,1.1 3,1.2 4.4,2.3 4.4,2.7 3,2 7.4,6 7.4,7 7.3,7.7 4.5,5 4.4,5.6 3,4.3 4.4,7.2 11.8,21.9 4.4,7.6 3,4.7 5.9,8.3 31,41 7.4,8.6 4.5,4.5 2.9,2.7 3,2.3 4.4,3.1 2.9,1.7 4.5,2.2 4.4,1.7 4.4,1.4 6,1.4 5.9,0.9 14.7,1.5 22.2,1.3 35.5,1.5 39.8,1.1 47.3,0.8 59.1,0.5" stroke="#30f0c8"/>
<path d="M87.6,317.3l0-201.9 5.9,7.5 4.4,5.2 6,6.4 4.4,4.2 4.4,3.8 4.4,3.3 4.5,2.5 2.9,1.2 3,0.7 2.9,0.3 3-0.3 1.5-0.4 4.4-1.9 8.9-5.5 2.9-1.6 4.5-1.5 4.4-0.4 4.4,0.7 3,0.9 2.9,1.3 5.9,3.5 3,2.2 4.4,3.6 5.9,5.5 7.4,7.8 7.4,8.4 5.9,7.5 4.4,6.4 3,4.8 14.8,27 2.9,5.1 4.5,6.8 7.3,10.3 26.6,34.8 4.5,5.3 4.4,4.9 4.4,4.3 3,2.6 2.9,2.3 4.5,3.1 2.9,1.7 4.5,2.2 4.4,1.7 5.9,1.8 5.9,1.4 5.9,1 14.8,1.6 23.6,1.5 34,1.5 39.9,1.1 47.3,0.8 59.1,0.5 0,2.5z" fill="#fff"/>
<path d="M87.6,317.3l0-201.9 5.9,7.5 4.4,5.2 6,6.4 4.4,4.2 4.4,3.8 4.4,3.3 4.5,2.5 2.9,1.2 3,0.7 2.9,0.3 3-0.3 1.5-0.4 4.4-1.9 8.9-5.5 2.9-1.6 4.5-1.5 4.4-0.4 4.4,0.7 3,0.9 2.9,1.3 5.9,3.5 3,2.2 4.4,3.6 5.9,5.5 7.4,7.8 7.4,8.4 5.9,7.5 4.4,6.4 3,4.8 14.8,27 2.9,5.1 4.5,6.8 7.3,10.3 26.6,34.8 4.5,5.3 4.4,4.9 4.4,4.3 3,2.6 2.9,2.3 4.5,3.1 2.9,1.7 4.5,2.2 4.4,1.7 5.9,1.8 5.9,1.4 5.9,1 14.8,1.6 23.6,1.5 34,1.5 39.9,1.1 47.3,0.8 59.1,0.5" stroke="#7000f8"/>
<path d="M84.5,321.5l0-196.6 5.9,7.4 4.4,5.1 4.4,4.7 4.5,4.2 4.4,3.5 3,2 4.4,2.3 2.9,1.1 3,0.6 2.9,0.1 3-0.4 3-0.9 4.4-2.3 8.9-6.2 4.4-2.6 4.4-1.8 3-0.7 2.9-0.1 1.5,0.1 1.5,0.3 2.9,0.9 4.5,2.3 2.9,2 3,2.3 5.9,5.4 7.4,7.8 8.8,10.5 7.4,9.6 4.5,6.4 4.4,7.2 14.8,27.1 2.9,5 4.4,6.9 8.9,12.3 16.3,21.4 7.3,9.3 4.5,5.3 4.4,4.9 4.4,4.4 4.5,3.8 2.9,2.3 4.5,3 4.4,2.5 4.4,2.1 4.5,1.6 5.9,1.8 5.9,1.3 7.4,1.2 16.2,1.8 23.6,1.6 32.5,1.4 39.9,1.1 45.8,0.8 59.1,0.4 0,2.5z" fill="#fff"/>
<path d="M84.5,321.5l0-196.6 5.9,7.4 4.4,5.1 4.4,4.7 4.5,4.2 4.4,3.5 3,2 4.4,2.3 2.9,1.1 3,0.6 2.9,0.1 3-0.4 3-0.9 4.4-2.3 8.9-6.2 4.4-2.6 4.4-1.8 3-0.7 2.9-0.1 1.5,0.1 1.5,0.3 2.9,0.9 4.5,2.3 2.9,2 3,2.3 5.9,5.4 7.4,7.8 8.8,10.5 7.4,9.6 4.5,6.4 4.4,7.2 14.8,27.1 2.9,5 4.4,6.9 8.9,12.3 16.3,21.4 7.3,9.3 4.5,5.3 4.4,4.9 4.4,4.4 4.5,3.8 2.9,2.3 4.5,3 4.4,2.5 4.4,2.1 4.5,1.6 5.9,1.8 5.9,1.3 7.4,1.2 16.2,1.8 23.6,1.6 32.5,1.4 39.9,1.1 45.8,0.8 59.1,0.4" stroke="#3c5800"/>
<path d="M81.3,325.8l0-191.5 4.5,5.6 4.4,5.1 4.4,4.7 4.4,4.2 4.5,3.4 2.9,1.9 4.5,1.9 2.9,0.7 3,0.2 2.9-0.3 3-0.8 2.9-1.3 4.5-2.8 8.8-6.8 4.5-3.1 4.4-2.4 3-1.1 2.9-0.7 1.5-0.1 2.9,0.4 1.5,0.4 3,1.3 4.4,2.9 5.9,5.3 7.4,8 8.9,10.9 8.8,11.9 4.5,6.6 4.4,7.1 4.4,7.8 10.4,19.2 7.3,12.4 4.5,6.6 4.4,6.1 20.7,26.9 5.9,7.2 4.4,5 4.5,4.5 4.4,4.1 4.4,3.6 4.5,3.1 4.4,2.7 5.9,2.8 4.4,1.7 5.9,1.9 6,1.4 7.3,1.3 8.9,1.2 8.9,0.9 23.6,1.7 32.5,1.5 38.4,1.1 47.3,0.8 59.1,0.4 0,2.5z" fill="#fff"/>
<path d="M81.3,325.8l0-191.5 4.5,5.6 4.4,5.1 4.4,4.7 4.4,4.2 4.5,3.4 2.9,1.9 4.5,1.9 2.9,0.7 3,0.2 2.9-0.3 3-0.8 2.9-1.3 4.5-2.8 8.8-6.8 4.5-3.1 4.4-2.4 3-1.1 2.9-0.7 1.5-0.1 2.9,0.4 1.5,0.4 3,1.3 4.4,2.9 5.9,5.3 7.4,8 8.9,10.9 8.8,11.9 4.5,6.6 4.4,7.1 4.4,7.8 10.4,19.2 7.3,12.4 4.5,6.6 4.4,6.1 20.7,26.9 5.9,7.2 4.4,5 4.5,4.5 4.4,4.1 4.4,3.6 4.5,3.1 4.4,2.7 5.9,2.8 4.4,1.7 5.9,1.9 6,1.4 7.3,1.3 8.9,1.2 8.9,0.9 23.6,1.7 32.5,1.5 38.4,1.1 47.3,0.8 59.1,0.4" stroke="#0000f0"/>
<path d="M78.2,330l0-186.3 4.4,5.5 4.4,5.1 4.5,4.6 4.4,3.9 4.4,3.1 3,1.5 2.9,1 3,0.4 1.5,0 2.9-0.5 3-1 2.9-1.5 3-1.9 3-2.3 8.8-7.6 4.4-3.5 4.5-3 4.4-2.2 3-0.8 1.4-0.2 3,0.3 3,1.1 1.4,0.8 3,2.2 2.9,2.6 3,3 5.9,6.8 7.4,9.4 8.9,12.4 5.9,8.9 5.9,9.8 14.7,27.1 7.4,12.4 4.5,6.6 5.9,8.2 16.2,21.1 5.9,7.2 5.9,6.7 6,6 4.4,4 4.4,3.5 5.9,3.9 4.5,2.5 5.9,2.7 5.9,2.1 5.9,1.7 5.9,1.3 7.4,1.4 8.8,1.2 8.9,0.9 25.1,1.8 31,1.5 38.5,1 45.8,0.8 59,0.4 0,2.4z" fill="#fff"/>
<path d="M78.2,330l0-186.3 4.4,5.5 4.4,5.1 4.5,4.6 4.4,3.9 4.4,3.1 3,1.5 2.9,1 3,0.4 1.5,0 2.9-0.5 3-1 2.9-1.5 3-1.9 3-2.3 8.8-7.6 4.4-3.5 4.5-3 4.4-2.2 3-0.8 1.4-0.2 3,0.3 3,1.1 1.4,0.8 3,2.2 2.9,2.6 3,3 5.9,6.8 7.4,9.4 8.9,12.4 5.9,8.9 5.9,9.8 14.7,27.1 7.4,12.4 4.5,6.6 5.9,8.2 16.2,21.1 5.9,7.2 5.9,6.7 6,6 4.4,4 4.4,3.5 5.9,3.9 4.5,2.5 5.9,2.7 5.9,2.1 5.9,1.7 5.9,1.3 7.4,1.4 8.8,1.2 8.9,0.9 25.1,1.8 31,1.5 38.5,1 45.8,0.8 59,0.4" stroke="#3010e8"/>
<path d="M75,334.2l0-181.1 4.5,5.5 4.4,5.1 4.4,4.4 3,2.5 4.4,3.1 3,1.4 2.9,0.8 3,0.2 1.5-0.2 2.9-0.8 1.5-0.6 2.9-1.7 4.5-3.4 11.8-11.3 7.4-6.2 4.4-3.2 3-1.6 2.9-1 1.5-0.2 1.5,0 2.9,0.9 3,1.7 2.9,2.5 3,3 3,3.3 4.4,5.5 4.4,6 10.4,15.1 8.8,14.1 5.9,10.3 13.3,24.6 7.4,12.4 4.4,6.7 6,8.3 7.3,9.8 7.4,9.4 5.9,7.2 4.5,5 5.9,6.1 4.4,4.1 4.4,3.8 4.5,3.2 4.4,2.9 5.9,3.2 5.9,2.6 5.9,2 5.9,1.7 7.4,1.6 8.9,1.6 8.9,1.1 10.3,1.1 13.3,1 32.5,1.7 38.4,1.2 47.3,0.8 63.5,0.5 0,2.3z" fill="#fff"/>
<path d="M75,334.2l0-181.1 4.5,5.5 4.4,5.1 4.4,4.4 3,2.5 4.4,3.1 3,1.4 2.9,0.8 3,0.2 1.5-0.2 2.9-0.8 1.5-0.6 2.9-1.7 4.5-3.4 11.8-11.3 7.4-6.2 4.4-3.2 3-1.6 2.9-1 1.5-0.2 1.5,0 2.9,0.9 3,1.7 2.9,2.5 3,3 3,3.3 4.4,5.5 4.4,6 10.4,15.1 8.8,14.1 5.9,10.3 13.3,24.6 7.4,12.4 4.4,6.7 6,8.3 7.3,9.8 7.4,9.4 5.9,7.2 4.5,5 5.9,6.1 4.4,4.1 4.4,3.8 4.5,3.2 4.4,2.9 5.9,3.2 5.9,2.6 5.9,2 5.9,1.7 7.4,1.6 8.9,1.6 8.9,1.1 10.3,1.1 13.3,1 32.5,1.7 38.4,1.2 47.3,0.8 63.5,0.5" stroke="#4c0008"/>
<path d="M71.9,338.5l0-175.9 4.4,5.4 4.5,5 4.4,4.2 3,2.4 4.4,2.7 2.9,1.1 3,0.3 2.9-0.3 1.5-0.5 3-1.4 4.4-3.4 3-2.9 8.8-9.7 4.5-4.6 4.4-4.1 5.9-5 4.4-3.1 3-1.1 1.5-0.2 1.4,0.1 1.5,0.4 1.5,0.7 1.5,0.9 2.9,2.4 3,3.1 2.9,3.6 7.4,10.1 8.9,13.4 8.9,14.6 7.3,13.1 14.8,27.4 5.9,10 4.5,7 4.4,6.4 5.9,8.2 7.4,9.6 5.9,7.3 5.9,6.8 5.9,6.3 4.4,4.2 5.9,5.1 4.5,3.3 5.9,3.8 5.9,3.2 5.9,2.6 5.9,2.2 7.4,2.1 7.4,1.7 8.9,1.5 8.8,1.3 11.8,1.2 11.9,0.9 31,1.8 38.4,1.2 48.7,0.8 63.6,0.5 0,2.3z" fill="#fff"/>
<path d="M71.9,338.5l0-175.9 4.4,5.4 4.5,5 4.4,4.2 3,2.4 4.4,2.7 2.9,1.1 3,0.3 2.9-0.3 1.5-0.5 3-1.4 4.4-3.4 3-2.9 8.8-9.7 4.5-4.6 4.4-4.1 5.9-5 4.4-3.1 3-1.1 1.5-0.2 1.4,0.1 1.5,0.4 1.5,0.7 1.5,0.9 2.9,2.4 3,3.1 2.9,3.6 7.4,10.1 8.9,13.4 8.9,14.6 7.3,13.1 14.8,27.4 5.9,10 4.5,7 4.4,6.4 5.9,8.2 7.4,9.6 5.9,7.3 5.9,6.8 5.9,6.3 4.4,4.2 5.9,5.1 4.5,3.3 5.9,3.8 5.9,3.2 5.9,2.6 5.9,2.2 7.4,2.1 7.4,1.7 8.9,1.5 8.8,1.3 11.8,1.2 11.9,0.9 31,1.8 38.4,1.2 48.7,0.8 63.6,0.5" stroke="#00b000"/>
<path d="M68.8,342.7l0-170.7 4.4,5.4 4.4,4.9 4.5,4.1 2.9,2.2 3,1.7 2.9,1 3,0.4 2.9-0.5 1.5-0.6 3-1.7 1.4-1.2 3-2.8 2.9-3.4 7.4-9.4 4.5-5.2 4.4-4.7 8.9-8.5 2.9-2.5 1.5-1 1.5-0.7 1.4-0.4 1.5-0.2 1.5,0.2 1.5,0.5 1.5,0.8 1.4,1.1 3,2.9 4.4,5.4 7.4,10.7 7.4,11.8 7.4,12.7 7.4,13.3 14.7,27.8 7.4,13 4.5,7.1 4.4,6.7 10.3,14.2 7.4,9.4 5.9,6.9 5.9,6.3 5.9,5.8 6,5 5.9,4.4 5.9,3.8 5.9,3.2 5.9,2.6 7.4,2.7 7.4,2.1 7.4,1.7 8.8,1.6 8.9,1.3 10.3,1.2 13.3,1.1 31,1.7 38.4,1.3 47.3,0.8 65,0.4 0,2.3z" fill="#fff"/>
<path d="M68.8,342.7l0-170.7 4.4,5.4 4.4,4.9 4.5,4.1 2.9,2.2 3,1.7 2.9,1 3,0.4 2.9-0.5 1.5-0.6 3-1.7 1.4-1.2 3-2.8 2.9-3.4 7.4-9.4 4.5-5.2 4.4-4.7 8.9-8.5 2.9-2.5 1.5-1 1.5-0.7 1.4-0.4 1.5-0.2 1.5,0.2 1.5,0.5 1.5,0.8 1.4,1.1 3,2.9 4.4,5.4 7.4,10.7 7.4,11.8 7.4,12.7 7.4,13.3 14.7,27.8 7.4,13 4.5,7.1 4.4,6.7 10.3,14.2 7.4,9.4 5.9,6.9 5.9,6.3 5.9,5.8 6,5 5.9,4.4 5.9,3.8 5.9,3.2 5.9,2.6 7.4,2.7 7.4,2.1 7.4,1.7 8.8,1.6 8.9,1.3 10.3,1.2 13.3,1.1 31,1.7 38.4,1.3 47.3,0.8 65,0.4" stroke="#00a060"/>
<path d="M65.6,347l0-165.6 4.5,5.4 2.9,3.2 4.4,4.3 3,2.3 2.9,1.8 3,1.1 3,0.3 2.9-0.6 3-1.5 1.4-1.1 3-2.8 4.4-5.6 7.4-10.8 4.4-5.9 4.5-5.1 10.3-11 3-2.7 1.5-1 1.4-0.8 1.5-0.4 1.5-0.1 1.5,0.3 1.4,0.7 1.5,1 3,2.8 4.4,5.7 5.9,9 5.9,9.7 7.4,13.1 22.2,42.2 7.4,13.4 4.4,7.5 5.9,9.3 4.4,6.4 5.9,8.2 7.4,9.4 5.9,6.9 5.9,6.3 6,5.7 5.9,5 5.9,4.4 5.9,3.9 5.9,3.3 5.9,2.7 7.4,2.9 7.4,2.4 7.4,1.9 8.8,1.8 10.4,1.6 10.3,1.2 11.8,1.1 14.8,1 16.2,0.9 38.5,1.3 48.7,0.9 66.5,0.4 0,2.3z" fill="#fff"/>
<path d="M65.6,347l0-165.6 4.5,5.4 2.9,3.2 4.4,4.3 3,2.3 2.9,1.8 3,1.1 3,0.3 2.9-0.6 3-1.5 1.4-1.1 3-2.8 4.4-5.6 7.4-10.8 4.4-5.9 4.5-5.1 10.3-11 3-2.7 1.5-1 1.4-0.8 1.5-0.4 1.5-0.1 1.5,0.3 1.4,0.7 1.5,1 3,2.8 4.4,5.7 5.9,9 5.9,9.7 7.4,13.1 22.2,42.2 7.4,13.4 4.4,7.5 5.9,9.3 4.4,6.4 5.9,8.2 7.4,9.4 5.9,6.9 5.9,6.3 6,5.7 5.9,5 5.9,4.4 5.9,3.9 5.9,3.3 5.9,2.7 7.4,2.9 7.4,2.4 7.4,1.9 8.8,1.8 10.4,1.6 10.3,1.2 11.8,1.1 14.8,1 16.2,0.9 38.5,1.3 48.7,0.9 66.5,0.4" stroke="#0000f0"/>
<path d="M62.5,351.2l0-160.3 4.4,5.3 3,3.2 4.4,4.1 3,2.2 2.9,1.5 3,0.8 2.9-0.1 1.5-0.4 1.5-0.7 2.9-2.1 1.5-1.5 3-3.5 2.9-4.4 10.4-16.8 2.9-4.1 3-3.7 13.3-15.3 2.9-2.4 1.5-0.8 1.5-0.3 1.4,0.1 1.5,0.5 1.5,0.8 1.5,1.2 1.5,1.5 2.9,3.8 4.4,6.7 5.9,9.9 7.4,13.4 5.9,11.4 16.3,32.3 8.9,16.4 4.4,7.7 5.9,9.5 4.4,6.7 5.9,8.4 6,7.7 5.9,7 5.9,6.5 7.4,7.1 5.9,5 5.9,4.5 5.9,3.9 7.4,4.1 5.9,2.8 7.4,3 7.4,2.4 8.8,2.3 8.9,1.9 10.3,1.7 10.4,1.2 11.8,1.1 14.8,1.1 16.2,0.9 38.4,1.4 48.8,0.8 66.4,0.4 0,2.2z" fill="#fff"/>
<path d="M62.5,351.2l0-160.3 4.4,5.3 3,3.2 4.4,4.1 3,2.2 2.9,1.5 3,0.8 2.9-0.1 1.5-0.4 1.5-0.7 2.9-2.1 1.5-1.5 3-3.5 2.9-4.4 10.4-16.8 2.9-4.1 3-3.7 13.3-15.3 2.9-2.4 1.5-0.8 1.5-0.3 1.4,0.1 1.5,0.5 1.5,0.8 1.5,1.2 1.5,1.5 2.9,3.8 4.4,6.7 5.9,9.9 7.4,13.4 5.9,11.4 16.3,32.3 8.9,16.4 4.4,7.7 5.9,9.5 4.4,6.7 5.9,8.4 6,7.7 5.9,7 5.9,6.5 7.4,7.1 5.9,5 5.9,4.5 5.9,3.9 7.4,4.1 5.9,2.8 7.4,3 7.4,2.4 8.8,2.3 8.9,1.9 10.3,1.7 10.4,1.2 11.8,1.1 14.8,1.1 16.2,0.9 38.4,1.4 48.8,0.8 66.4,0.4" stroke="#ff4800"/>
<path d="M59.3,355.4l0-157.6 4.5,5.2 2.9,3.1 4.5,4 2.9,2.1 3,1.4 2.9,0.7 3-0.1 2.9-1.2 3-2.1 1.5-1.5 2.9-3.6 3-4.3 7.4-12.1 4.4-6.7 2.9-4 13.3-16.8 3-3.1 1.5-1.1 1.5-0.7 1.4-0.4 1.5,0.1 1.5,0.5 1.5,0.9 2.9,2.6 4.4,5.6 6,9.2 5.9,10.4 5.9,11.2 19.2,39.3 8.8,17.1 4.5,7.8 5.9,9.8 5.9,9 5.9,8.4 5.9,7.7 5.9,7.1 5.9,6.4 5.9,5.7 5.9,5.1 6,4.4 5.9,3.8 7.4,4.1 5.9,2.7 7.3,2.9 7.4,2.4 8.9,2.2 8.9,1.8 10.3,1.6 10.3,1.3 11.9,1 14.7,1.1 17.8,0.9 38.4,1.3 48.7,0.8 66.5,0.4 0,2.2z" fill="#fff"/>
<path d="M59.3,355.4l0-157.6 4.5,5.2 2.9,3.1 4.5,4 2.9,2.1 3,1.4 2.9,0.7 3-0.1 2.9-1.2 3-2.1 1.5-1.5 2.9-3.6 3-4.3 7.4-12.1 4.4-6.7 2.9-4 13.3-16.8 3-3.1 1.5-1.1 1.5-0.7 1.4-0.4 1.5,0.1 1.5,0.5 1.5,0.9 2.9,2.6 4.4,5.6 6,9.2 5.9,10.4 5.9,11.2 19.2,39.3 8.8,17.1 4.5,7.8 5.9,9.8 5.9,9 5.9,8.4 5.9,7.7 5.9,7.1 5.9,6.4 5.9,5.7 5.9,5.1 6,4.4 5.9,3.8 7.4,4.1 5.9,2.7 7.3,2.9 7.4,2.4 8.9,2.2 8.9,1.8 10.3,1.6 10.3,1.3 11.9,1 14.7,1.1 17.8,0.9 38.4,1.3 48.7,0.8 66.5,0.4" stroke="#0000f0"/>
<path d="M56.2,359.7l0-155 4.4,5 3,3.1 4.4,3.9 3,2 2.9,1.3 3,0.7 2.9-0.3 3-1.1 2.9-2.2 1.5-1.5 3-3.6 2.9-4.3 7.4-12 4.5-6.7 16.2-22.4 3-3.2 1.4-1.1 1.5-0.7 1.5-0.3 1.5,0.1 1.4,0.4 1.5,0.9 3,2.5 4.4,5.4 5.9,9 5.9,10.6 5.9,11.5 19.2,40.7 7.4,14.6 4.5,8.1 5.9,10 4.4,7 5.9,8.7 5.9,8 5.9,7.4 5.9,6.7 5.9,6 6,5.3 5.9,4.5 5.9,4 7.4,4.2 5.9,2.8 7.4,2.9 7.3,2.3 8.9,2.3 8.9,1.8 10.3,1.6 10.4,1.2 11.8,1.1 16.2,1.1 16.3,0.9 38.4,1.3 50.2,0.8 68,0.5 0,2.2z" fill="#fff"/>
<path d="M56.2,359.7l0-155 4.4,5 3,3.1 4.4,3.9 3,2 2.9,1.3 3,0.7 2.9-0.3 3-1.1 2.9-2.2 1.5-1.5 3-3.6 2.9-4.3 7.4-12 4.5-6.7 16.2-22.4 3-3.2 1.4-1.1 1.5-0.7 1.5-0.3 1.5,0.1 1.4,0.4 1.5,0.9 3,2.5 4.4,5.4 5.9,9 5.9,10.6 5.9,11.5 19.2,40.7 7.4,14.6 4.5,8.1 5.9,10 4.4,7 5.9,8.7 5.9,8 5.9,7.4 5.9,6.7 5.9,6 6,5.3 5.9,4.5 5.9,4 7.4,4.2 5.9,2.8 7.4,2.9 7.3,2.3 8.9,2.3 8.9,1.8 10.3,1.6 10.4,1.2 11.8,1.1 16.2,1.1 16.3,0.9 38.4,1.3 50.2,0.8 68,0.5" stroke="#ff00ff"/>
<path d="M53.1,363.9l0-152.3 4.4,4.9 2.9,3 4.5,3.7 2.9,1.9 3,1.3 2.9,0.6 3-0.3 3-1.2 1.4-1 3-2.7 4.4-5.6 11.8-18.8 17.8-26.1 2.9-3.3 1.5-1.2 1.5-0.7 1.4-0.3 1.5,0.1 1.5,0.4 1.5,0.8 2.9,2.4 4.5,5.2 2.9,4.3 3,4.7 5.9,10.8 5.9,11.9 5.9,12.7 11.8,26.3 7.4,15.2 4.4,8.3 5.9,10.2 6,9.4 5.9,8.7 5.9,8 5.9,7.4 5.9,6.7 5.9,5.8 5.9,5.2 5.9,4.4 5.9,3.8 5.9,3.2 6,2.7 7.3,2.8 7.4,2.3 8.9,2.2 8.9,1.7 10.3,1.6 11.8,1.3 11.8,1 16.3,1.1 16.2,0.8 38.4,1.3 50.3,0.8 67.9,0.4 0,2.2z" fill="#fff"/>
<path d="M53.1,363.9l0-152.3 4.4,4.9 2.9,3 4.5,3.7 2.9,1.9 3,1.3 2.9,0.6 3-0.3 3-1.2 1.4-1 3-2.7 4.4-5.6 11.8-18.8 17.8-26.1 2.9-3.3 1.5-1.2 1.5-0.7 1.4-0.3 1.5,0.1 1.5,0.4 1.5,0.8 2.9,2.4 4.5,5.2 2.9,4.3 3,4.7 5.9,10.8 5.9,11.9 5.9,12.7 11.8,26.3 7.4,15.2 4.4,8.3 5.9,10.2 6,9.4 5.9,8.7 5.9,8 5.9,7.4 5.9,6.7 5.9,5.8 5.9,5.2 5.9,4.4 5.9,3.8 5.9,3.2 6,2.7 7.3,2.8 7.4,2.3 8.9,2.2 8.9,1.7 10.3,1.6 11.8,1.3 11.8,1 16.3,1.1 16.2,0.8 38.4,1.3 50.3,0.8 67.9,0.4" stroke="#4c0008"/>
<path d="M49.9,368.2l0-149.7 4.5,4.8 2.9,2.9 4.4,3.6 3,1.8 2.9,1.2 3,0.5 3-0.3 2.9-1.3 1.5-1 2.9-2.7 4.5-5.6 11.8-18.7 7.4-11.3 7.4-12.2 2.9-4.4 3-3.4 1.5-1.2 1.4-0.7 1.5-0.3 1.5,0.1 1.5,0.4 1.4,0.7 3,2.3 1.5,1.5 2.9,3.6 3,4.2 2.9,4.8 5.9,11.2 6,12.3 17.7,40.4 7.4,15.3 4.4,8.3 5.9,10.3 4.4,7.1 5.9,8.9 6,8.1 5.9,7.6 5.9,6.8 4.4,4.5 5.9,5.4 5.9,4.6 5.9,3.9 5.9,3.3 6,2.7 7.3,2.9 7.4,2.3 8.9,2.2 8.9,1.7 10.3,1.5 11.8,1.4 11.8,1 16.3,1.1 16.2,0.8 39.9,1.3 50.2,0.8 69.5,0.5 0,2.2z" fill="#fff"/>
<path d="M49.9,368.2l0-149.7 4.5,4.8 2.9,2.9 4.4,3.6 3,1.8 2.9,1.2 3,0.5 3-0.3 2.9-1.3 1.5-1 2.9-2.7 4.5-5.6 11.8-18.7 7.4-11.3 7.4-12.2 2.9-4.4 3-3.4 1.5-1.2 1.4-0.7 1.5-0.3 1.5,0.1 1.5,0.4 1.4,0.7 3,2.3 1.5,1.5 2.9,3.6 3,4.2 2.9,4.8 5.9,11.2 6,12.3 17.7,40.4 7.4,15.3 4.4,8.3 5.9,10.3 4.4,7.1 5.9,8.9 6,8.1 5.9,7.6 5.9,6.8 4.4,4.5 5.9,5.4 5.9,4.6 5.9,3.9 5.9,3.3 6,2.7 7.3,2.9 7.4,2.3 8.9,2.2 8.9,1.7 10.3,1.5 11.8,1.4 11.8,1 16.3,1.1 16.2,0.8 39.9,1.3 50.2,0.8 69.5,0.5" stroke="#00a060"/>
<path d="M46.8,372.4l0-147 4.4,4.7 4.4,4 4.5,3.2 2.9,1.4 3,0.8 2.9,0.1 3-0.9 2.9-1.8 1.5-1.2 3-3.2 2.9-3.9 3-4.4 14.8-23.8 8.8-15.6 3-4.7 2.9-3.4 1.5-1.2 1.5-0.7 1.5-0.3 1.4,0 1.5,0.4 1.5,0.7 1.5,1 2.9,2.6 1.5,1.7 3,3.9 4.4,7.2 4.4,8.5 5.9,12.5 5.9,13.5 11.9,28.2 7.4,15.9 4.4,8.5 5.9,10.5 4.4,7.3 5.9,9 5.9,8.4 6,7.7 5.9,6.9 4.4,4.6 5.9,5.4 5.9,4.6 5.9,3.9 5.9,3.2 5.9,2.7 7.4,2.8 7.4,2.2 8.9,2.1 8.8,1.6 10.4,1.5 11.8,1.3 11.8,1 16.3,1.1 17.7,0.9 39.9,1.2 50.2,0.8 69.4,0.4 0,2.2z" fill="#fff"/>
<path d="M46.8,372.4l0-147 4.4,4.7 4.4,4 4.5,3.2 2.9,1.4 3,0.8 2.9,0.1 3-0.9 2.9-1.8 1.5-1.2 3-3.2 2.9-3.9 3-4.4 14.8-23.8 8.8-15.6 3-4.7 2.9-3.4 1.5-1.2 1.5-0.7 1.5-0.3 1.4,0 1.5,0.4 1.5,0.7 1.5,1 2.9,2.6 1.5,1.7 3,3.9 4.4,7.2 4.4,8.5 5.9,12.5 5.9,13.5 11.9,28.2 7.4,15.9 4.4,8.5 5.9,10.5 4.4,7.3 5.9,9 5.9,8.4 6,7.7 5.9,6.9 4.4,4.6 5.9,5.4 5.9,4.6 5.9,3.9 5.9,3.2 5.9,2.7 7.4,2.8 7.4,2.2 8.9,2.1 8.8,1.6 10.4,1.5 11.8,1.3 11.8,1 16.3,1.1 17.7,0.9 39.9,1.2 50.2,0.8 69.4,0.4" stroke="#0000f0"/>
<path d="M43.6,376.6l0-144.3 4.5,4.5 4.4,3.9 4.4,3.1 3,1.4 2.9,0.7 3,0 3-0.9 2.9-1.8 3-2.7 2.9-3.6 3-4.1 2.9-4.6 11.8-19.7 10.4-19.3 2.9-4.8 1.5-2 1.5-1.5 1.5-1.2 1.5-0.7 1.4-0.4 1.5,0 1.5,0.4 1.5,0.6 1.4,0.9 3,2.6 2.9,3.5 1.5,2.1 4.5,7.5 4.4,8.9 5.9,12.9 4.4,10.5 11.8,29.2 7.4,16.5 4.5,8.7 5.9,10.8 4.4,7.4 5.9,9.2 5.9,8.5 5.9,7.9 4.5,5.3 5.9,6.4 4.4,4.1 5.9,4.8 5.9,4.1 5.9,3.3 5.9,2.8 7.4,2.8 7.4,2.2 8.9,2.1 8.8,1.7 10.4,1.4 11.8,1.4 11.8,0.9 16.3,1.1 17.7,0.9 39.9,1.2 51.7,0.8 70.9,0.4 0,2.2z" fill="#fff"/>
<path d="M43.6,376.6l0-144.3 4.5,4.5 4.4,3.9 4.4,3.1 3,1.4 2.9,0.7 3,0 3-0.9 2.9-1.8 3-2.7 2.9-3.6 3-4.1 2.9-4.6 11.8-19.7 10.4-19.3 2.9-4.8 1.5-2 1.5-1.5 1.5-1.2 1.5-0.7 1.4-0.4 1.5,0 1.5,0.4 1.5,0.6 1.4,0.9 3,2.6 2.9,3.5 1.5,2.1 4.5,7.5 4.4,8.9 5.9,12.9 4.4,10.5 11.8,29.2 7.4,16.5 4.5,8.7 5.9,10.8 4.4,7.4 5.9,9.2 5.9,8.5 5.9,7.9 4.5,5.3 5.9,6.4 4.4,4.1 5.9,4.8 5.9,4.1 5.9,3.3 5.9,2.8 7.4,2.8 7.4,2.2 8.9,2.1 8.8,1.7 10.4,1.4 11.8,1.4 11.8,0.9 16.3,1.1 17.7,0.9 39.9,1.2 51.7,0.8 70.9,0.4" stroke="#3010e8"/>
<path d="M40.5,380.9l0-141.8 4.4,4.5 4.5,3.8 4.4,2.9 3,1.3 2.9,0.6 3,0 2.9-1 3-1.8 2.9-2.7 3-3.5 2.9-4.1 4.5-7 8.8-15.2 4.5-8.5 7.3-14.9 3-5 1.5-2 1.5-1.5 1.4-1.2 1.5-0.8 1.5-0.4 1.5,0 1.4,0.3 1.5,0.6 1.5,0.8 3,2.6 2.9,3.6 1.5,2.2 4.4,7.8 4.4,9.3 6,13.4 14.7,37.6 5.9,13.7 4.5,9.3 4.4,8.6 5.9,10.4 5.9,9.6 7.4,11 4.4,6.1 5.9,7.3 4.5,4.9 5.9,5.7 5.9,4.8 5.9,4.1 5.9,3.3 5.9,2.7 7.4,2.7 7.4,2.2 7.4,1.7 8.8,1.6 10.4,1.5 11.8,1.3 13.3,1.1 16.3,1 17.7,0.8 41.3,1.3 51.8,0.7 70.9,0.5 0,2.2z" fill="#fff"/>
<path d="M40.5,380.9l0-141.8 4.4,4.5 4.5,3.8 4.4,2.9 3,1.3 2.9,0.6 3,0 2.9-1 3-1.8 2.9-2.7 3-3.5 2.9-4.1 4.5-7 8.8-15.2 4.5-8.5 7.3-14.9 3-5 1.5-2 1.5-1.5 1.4-1.2 1.5-0.8 1.5-0.4 1.5,0 1.4,0.3 1.5,0.6 1.5,0.8 3,2.6 2.9,3.6 1.5,2.2 4.4,7.8 4.4,9.3 6,13.4 14.7,37.6 5.9,13.7 4.5,9.3 4.4,8.6 5.9,10.4 5.9,9.6 7.4,11 4.4,6.1 5.9,7.3 4.5,4.9 5.9,5.7 5.9,4.8 5.9,4.1 5.9,3.3 5.9,2.7 7.4,2.7 7.4,2.2 7.4,1.7 8.8,1.6 10.4,1.5 11.8,1.3 13.3,1.1 16.3,1 17.7,0.8 41.3,1.3 51.8,0.7 70.9,0.5" stroke="#003818"/>
<path d="M37.4,385.1l0-139.1 4.4,4.3 4.4,3.7 4.5,2.8 2.9,1.2 3,0.6 2.9-0.2 3-0.9 2.9-1.8 3-2.7 2.9-3.5 4.5-6.3 4.4-7.3 7.4-13.3 2.9-6 7.4-16 3-5.7 1.5-2.4 1.4-2 1.5-1.6 1.5-1.2 1.5-0.8 1.4-0.5 1.5,0 1.5,0.2 1.5,0.6 1.5,0.8 1.4,1.2 1.5,1.4 3,3.8 1.4,2.3 3,5.3 4.4,9.3 5.9,13.7 4.5,11.2 10.3,27.5 4.4,10.9 3,6.7 4.4,9.3 4.5,8.5 4.4,7.9 5.9,9.8 7.4,11.2 4.4,6.2 5.9,7.4 4.5,5 4.4,4.4 5.9,5 5.9,4.2 5.9,3.5 5.9,2.8 7.4,2.7 7.4,2.2 7.4,1.7 8.9,1.6 10.3,1.5 11.8,1.3 13.3,1.1 16.3,1 17.7,0.8 42.8,1.3 53.2,0.8 70.9,0.4 0,2.2z" fill="#fff"/>
<path d="M37.4,385.1l0-139.1 4.4,4.3 4.4,3.7 4.5,2.8 2.9,1.2 3,0.6 2.9-0.2 3-0.9 2.9-1.8 3-2.7 2.9-3.5 4.5-6.3 4.4-7.3 7.4-13.3 2.9-6 7.4-16 3-5.7 1.5-2.4 1.4-2 1.5-1.6 1.5-1.2 1.5-0.8 1.4-0.5 1.5,0 1.5,0.2 1.5,0.6 1.5,0.8 1.4,1.2 1.5,1.4 3,3.8 1.4,2.3 3,5.3 4.4,9.3 5.9,13.7 4.5,11.2 10.3,27.5 4.4,10.9 3,6.7 4.4,9.3 4.5,8.5 4.4,7.9 5.9,9.8 7.4,11.2 4.4,6.2 5.9,7.4 4.5,5 4.4,4.4 5.9,5 5.9,4.2 5.9,3.5 5.9,2.8 7.4,2.7 7.4,2.2 7.4,1.7 8.9,1.6 10.3,1.5 11.8,1.3 13.3,1.1 16.3,1 17.7,0.8 42.8,1.3 53.2,0.8 70.9,0.4" stroke="#282000"/>
<path d="M34.2,389.4l0-136.5 4.5,4.2 4.4,3.5 4.4,2.7 3,1.1 2.9,0.5 1.5,0 3-0.6 2.9-1.4 3-2.2 2.9-3.1 4.5-5.9 2.9-4.5 4.4-7.7 4.5-8.4 2.9-6.2 8.9-20.3 2.9-5.8 1.5-2.4 1.5-2.1 1.5-1.6 1.5-1.3 1.4-0.8 1.5-0.5 1.5-0.1 1.5,0.2 1.4,0.6 1.5,0.8 1.5,1.2 1.5,1.5 2.9,4 4.5,8.1 4.4,9.7 5.9,14.3 13.3,36.3 4.4,11.2 3,6.9 4.4,9.6 4.4,8.7 4.5,8 5.9,10 7.4,11.4 4.4,6.4 5.9,7.5 4.4,5 4.5,4.5 5.9,5 5.9,4.2 5.9,3.4 5.9,2.8 7.4,2.7 7.4,2.1 7.4,1.6 8.8,1.5 10.4,1.4 13.3,1.4 13.3,1 33.9,1.8 42.9,1.2 53.2,0.7 70.9,0.4 0,2.3z" fill="#fff"/>
<path d="M34.2,389.4l0-136.5 4.5,4.2 4.4,3.5 4.4,2.7 3,1.1 2.9,0.5 1.5,0 3-0.6 2.9-1.4 3-2.2 2.9-3.1 4.5-5.9 2.9-4.5 4.4-7.7 4.5-8.4 2.9-6.2 8.9-20.3 2.9-5.8 1.5-2.4 1.5-2.1 1.5-1.6 1.5-1.3 1.4-0.8 1.5-0.5 1.5-0.1 1.5,0.2 1.4,0.6 1.5,0.8 1.5,1.2 1.5,1.5 2.9,4 4.5,8.1 4.4,9.7 5.9,14.3 13.3,36.3 4.4,11.2 3,6.9 4.4,9.6 4.4,8.7 4.5,8 5.9,10 7.4,11.4 4.4,6.4 5.9,7.5 4.4,5 4.5,4.5 5.9,5 5.9,4.2 5.9,3.4 5.9,2.8 7.4,2.7 7.4,2.1 7.4,1.6 8.8,1.5 10.4,1.4 13.3,1.4 13.3,1 33.9,1.8 42.9,1.2 53.2,0.7 70.9,0.4" stroke="#0000f0"/>
<path d="M31.1,393.6l0-133.8 4.4,4.1 4.4,3.3 4.5,2.5 2.9,1.1 3,0.5 1.5-0.1 2.9-0.6 3-1.4 2.9-2.2 3-3.1 4.4-5.8 3-4.6 4.4-7.9 5.9-12.1 10.3-24.9 3-6 1.5-2.5 1.5-2.1 1.4-1.7 1.5-1.3 1.5-0.8 1.5-0.6 1.4-0.1 1.5,0.2 1.5,0.5 1.5,0.9 1.5,1.3 2.9,3.6 1.5,2.3 2.9,5.6 4.5,9.7 5.9,14.5 4.4,12.1 10.4,29.4 5.9,14.8 4.4,9.8 4.4,8.9 4.5,8.2 5.9,10.2 7.4,11.6 4.4,6.5 5.9,7.6 4.4,5.1 4.5,4.5 5.9,5.1 5.9,4.1 5.9,3.4 5.9,2.7 7.4,2.6 7.4,2 7.4,1.6 8.8,1.5 10.4,1.3 13.3,1.2 13.3,1 33.9,1.7 42.9,1.2 53.2,0.8 72.3,0.4 0,2.2z" fill="#fff"/>
<path d="M31.1,393.6l0-133.8 4.4,4.1 4.4,3.3 4.5,2.5 2.9,1.1 3,0.5 1.5-0.1 2.9-0.6 3-1.4 2.9-2.2 3-3.1 4.4-5.8 3-4.6 4.4-7.9 5.9-12.1 10.3-24.9 3-6 1.5-2.5 1.5-2.1 1.4-1.7 1.5-1.3 1.5-0.8 1.5-0.6 1.4-0.1 1.5,0.2 1.5,0.5 1.5,0.9 1.5,1.3 2.9,3.6 1.5,2.3 2.9,5.6 4.5,9.7 5.9,14.5 4.4,12.1 10.4,29.4 5.9,14.8 4.4,9.8 4.4,8.9 4.5,8.2 5.9,10.2 7.4,11.6 4.4,6.5 5.9,7.6 4.4,5.1 4.5,4.5 5.9,5.1 5.9,4.1 5.9,3.4 5.9,2.7 7.4,2.6 7.4,2 7.4,1.6 8.8,1.5 10.4,1.3 13.3,1.2 13.3,1 33.9,1.7 42.9,1.2 53.2,0.8 72.3,0.4" stroke="#400070"/>
<path d="M27.9,397.8l0-131.1 4.5,3.9 4.4,3.2 4.4,2.4 3,1 2.9,0.4 1.5-0.1 3-0.6 2.9-1.4 3-2.2 2.9-3 4.5-5.9 4.4-7.2 3-5.5 2.9-6.2 3-6.8 8.8-22.8 3-6.8 1.5-2.9 2.9-4.7 1.5-1.7 1.5-1.3 1.5-0.9 1.4-0.6 1.5-0.2 1.5,0.2 1.5,0.6 1.4,1 1.5,1.4 3,3.9 1.4,2.6 3,5.9 4.4,10.2 4.5,11.2 4.4,12.4 10.3,30.4 5.9,15.3 3,6.8 4.4,9.4 4.5,8.6 5.9,10.6 5.9,9.8 5.9,9.1 5.9,8 4.4,5.3 4.5,4.7 5.9,5.4 5.9,4.4 5.9,3.5 5.9,2.8 5.9,2.2 7.4,2.2 7.4,1.6 8.8,1.5 10.4,1.4 13.3,1.3 13.3,1 35.4,1.7 42.9,1.2 54.6,0.8 73.9,0.4 0,2.2z" fill="#fff"/>
<path d="M27.9,397.8l0-131.1 4.5,3.9 4.4,3.2 4.4,2.4 3,1 2.9,0.4 1.5-0.1 3-0.6 2.9-1.4 3-2.2 2.9-3 4.5-5.9 4.4-7.2 3-5.5 2.9-6.2 3-6.8 8.8-22.8 3-6.8 1.5-2.9 2.9-4.7 1.5-1.7 1.5-1.3 1.5-0.9 1.4-0.6 1.5-0.2 1.5,0.2 1.5,0.6 1.4,1 1.5,1.4 3,3.9 1.4,2.6 3,5.9 4.4,10.2 4.5,11.2 4.4,12.4 10.3,30.4 5.9,15.3 3,6.8 4.4,9.4 4.5,8.6 5.9,10.6 5.9,9.8 5.9,9.1 5.9,8 4.4,5.3 4.5,4.7 5.9,5.4 5.9,4.4 5.9,3.5 5.9,2.8 5.9,2.2 7.4,2.2 7.4,1.6 8.8,1.5 10.4,1.4 13.3,1.3 13.3,1 35.4,1.7 42.9,1.2 54.6,0.8 73.9,0.4" stroke="#ff0000"/>
<path d="M24.8,402.1l0-128.5 5.9,4.9 4.4,2.8 4.5,1.9 2.9,0.6 3,0 1.5-0.2 2.9-1 3-1.8 2.9-2.6 3-3.3 2.9-4.1 4.5-7.4 2.9-5.8 3-6.6 2.9-7.3 8.9-24.1 2.9-7 1.5-3 3-4.7 1.5-1.8 1.4-1.3 1.5-1 1.5-0.6 1.5-0.2 1.4,0.3 1.5,0.7 1.5,1.1 1.5,1.5 2.9,4.4 4.5,9.1 4.4,10.7 4.4,11.8 13.3,40 5.9,15.8 3,7 4.4,9.6 4.4,8.8 6,10.9 5.9,9.9 5.9,9.2 5.9,8.2 4.4,5.4 4.4,4.7 6,5.4 5.9,4.4 5.9,3.5 5.9,2.7 5.9,2.2 7.4,2.1 7.4,1.5 8.8,1.5 10.4,1.2 13.3,1.3 13.3,0.9 35.4,1.7 44.3,1.2 54.7,0.8 73.9,0.4 0,2.2z" fill="#fff"/>
<path d="M24.8,402.1l0-128.5 5.9,4.9 4.4,2.8 4.5,1.9 2.9,0.6 3,0 1.5-0.2 2.9-1 3-1.8 2.9-2.6 3-3.3 2.9-4.1 4.5-7.4 2.9-5.8 3-6.6 2.9-7.3 8.9-24.1 2.9-7 1.5-3 3-4.7 1.5-1.8 1.4-1.3 1.5-1 1.5-0.6 1.5-0.2 1.4,0.3 1.5,0.7 1.5,1.1 1.5,1.5 2.9,4.4 4.5,9.1 4.4,10.7 4.4,11.8 13.3,40 5.9,15.8 3,7 4.4,9.6 4.4,8.8 6,10.9 5.9,9.9 5.9,9.2 5.9,8.2 4.4,5.4 4.4,4.7 6,5.4 5.9,4.4 5.9,3.5 5.9,2.7 5.9,2.2 7.4,2.1 7.4,1.5 8.8,1.5 10.4,1.2 13.3,1.3 13.3,0.9 35.4,1.7 44.3,1.2 54.7,0.8 73.9,0.4" stroke="#ff0000"/>
<path d="M21.7,406.3l0-125.8 4.4,3.6 4.4,2.9 4.5,2.1 2.9,0.8 1.5,0.3 2.9-0.1 1.5-0.2 3-1 2.9-1.8 3-2.5 1.5-1.6 2.9-3.7 3-4.5 2.9-5.3 3-6.1 4.4-10.9 10.4-29.4 2.9-7.1 1.5-3.1 2.9-4.8 1.5-1.8 1.5-1.4 1.5-1 1.4-0.6 1.5-0.1 1.5,0.3 1.5,0.8 1.5,1.3 1.4,1.8 3,4.9 2.9,6.2 4.5,10.8 4.4,11.9 4.4,13.4 8.9,28 5.9,16.3 3,7.2 4.4,9.9 4.4,9 5.9,11 5.9,10.2 6,9.3 5.9,8.3 4.4,5.5 4.4,4.7 5.9,5.4 5.9,4.4 6,3.4 5.9,2.7 5.9,2.2 7.4,2 7.4,1.5 8.8,1.3 10.4,1.2 13.3,1.1 13.2,0.9 35.5,1.7 44.3,1.2 54.7,0.7 75.3,0.4 0,2.2z" fill="#fff"/>
<path d="M21.7,406.3l0-125.8 4.4,3.6 4.4,2.9 4.5,2.1 2.9,0.8 1.5,0.3 2.9-0.1 1.5-0.2 3-1 2.9-1.8 3-2.5 1.5-1.6 2.9-3.7 3-4.5 2.9-5.3 3-6.1 4.4-10.9 10.4-29.4 2.9-7.1 1.5-3.1 2.9-4.8 1.5-1.8 1.5-1.4 1.5-1 1.4-0.6 1.5-0.1 1.5,0.3 1.5,0.8 1.5,1.3 1.4,1.8 3,4.9 2.9,6.2 4.5,10.8 4.4,11.9 4.4,13.4 8.9,28 5.9,16.3 3,7.2 4.4,9.9 4.4,9 5.9,11 5.9,10.2 6,9.3 5.9,8.3 4.4,5.5 4.4,4.7 5.9,5.4 5.9,4.4 6,3.4 5.9,2.7 5.9,2.2 7.4,2 7.4,1.5 8.8,1.3 10.4,1.2 13.3,1.1 13.2,0.9 35.5,1.7 44.3,1.2 54.7,0.7 75.3,0.4" stroke="#0000f0"/>
<path d="M18.5,410.6l0-123.2 4.5,3.4 4.4,2.8 4.4,2 3,0.7 1.4,0.2 3,0 1.5-0.3 2.9-1 3-1.7 1.5-1.2 2.9-2.9 3-3.7 2.9-4.6 3-5.5 2.9-6.5 4.5-11.7 10.3-30.9 3-7.3 1.4-3.1 3-5 1.5-1.9 1.5-1.4 1.4-1 1.5-0.5 1.5-0.1 1.5,0.5 1.4,1 1.5,1.5 1.5,2 2.9,5.5 3,6.7 4.4,11.3 4.5,12.6 11.8,38.2 2.9,8.8 3,8.1 2.9,7.4 4.5,10.1 4.4,9.2 4.4,8.6 6,10.5 5.9,9.8 5.9,8.6 5.9,7.5 4.4,4.8 5.9,5.4 5.9,4.4 5.9,3.4 6,2.7 5.9,2 7.3,2 7.4,1.4 8.9,1.3 10.3,1.1 26.6,1.9 37,1.6 44.3,1.1 56.1,0.7 73.9,0.4 0,2.3z" fill="#fff"/>
<path d="M18.5,410.6l0-123.2 4.5,3.4 4.4,2.8 4.4,2 3,0.7 1.4,0.2 3,0 1.5-0.3 2.9-1 3-1.7 1.5-1.2 2.9-2.9 3-3.7 2.9-4.6 3-5.5 2.9-6.5 4.5-11.7 10.3-30.9 3-7.3 1.4-3.1 3-5 1.5-1.9 1.5-1.4 1.4-1 1.5-0.5 1.5-0.1 1.5,0.5 1.4,1 1.5,1.5 1.5,2 2.9,5.5 3,6.7 4.4,11.3 4.5,12.6 11.8,38.2 2.9,8.8 3,8.1 2.9,7.4 4.5,10.1 4.4,9.2 4.4,8.6 6,10.5 5.9,9.8 5.9,8.6 5.9,7.5 4.4,4.8 5.9,5.4 5.9,4.4 5.9,3.4 6,2.7 5.9,2 7.3,2 7.4,1.4 8.9,1.3 10.3,1.1 26.6,1.9 37,1.6 44.3,1.1 56.1,0.7 73.9,0.4" stroke="#4c0008"/>
<path d="M15.4,414.8l0-120.5 4.4,3.3 4.4,2.6 4.5,1.8 4.4,0.8 3,0 1.4-0.3 3-1 2.9-1.7 1.5-1.1 3-2.9 2.9-3.7 3-4.7 2.9-5.8 3-7 4.4-12.4 8.9-28.3 2.9-8.2 1.5-3.5 3-6 1.5-2.3 1.4-1.9 1.5-1.4 1.5-1 1.5-0.4 1.4,0 1.5,0.7 1.5,1.2 1.5,1.8 2.9,5.2 3,6.7 4.4,11.4 4.4,12.7 11.9,39.5 2.9,9.1 3,8.4 2.9,7.6 4.5,10.3 4.4,9.4 4.4,8.8 5.9,10.7 5.9,9.9 6,8.8 4.4,5.8 4.4,5.1 5.9,5.7 5.9,4.6 5.9,3.6 6,2.8 5.9,2.2 5.9,1.6 7.4,1.5 8.8,1.3 8.9,1 13.3,1.1 14.8,1 36.9,1.6 45.8,1.1 56.1,0.8 76.8,0.4 0,2.2z" fill="#fff"/>
<path d="M15.4,414.8l0-120.5 4.4,3.3 4.4,2.6 4.5,1.8 4.4,0.8 3,0 1.4-0.3 3-1 2.9-1.7 1.5-1.1 3-2.9 2.9-3.7 3-4.7 2.9-5.8 3-7 4.4-12.4 8.9-28.3 2.9-8.2 1.5-3.5 3-6 1.5-2.3 1.4-1.9 1.5-1.4 1.5-1 1.5-0.4 1.4,0 1.5,0.7 1.5,1.2 1.5,1.8 2.9,5.2 3,6.7 4.4,11.4 4.4,12.7 11.9,39.5 2.9,9.1 3,8.4 2.9,7.6 4.5,10.3 4.4,9.4 4.4,8.8 5.9,10.7 5.9,9.9 6,8.8 4.4,5.8 4.4,5.1 5.9,5.7 5.9,4.6 5.9,3.6 6,2.8 5.9,2.2 5.9,1.6 7.4,1.5 8.8,1.3 8.9,1 13.3,1.1 14.8,1 36.9,1.6 45.8,1.1 56.1,0.8 76.8,0.4" stroke="#00a060"/>
<path d="M12.2,419l0-117.8 5.9,4 4.5,2.2 4.4,1.4 4.4,0.4 3-0.4 1.5-0.4 2.9-1.3 3-2 1.5-1.3 2.9-3.3 3-4.3 2.9-5.5 1.5-3.2 3-7.5 4.4-13.4 8.9-29.6 2.9-8.4 1.5-3.6 2.9-6.1 1.5-2.3 1.5-1.9 1.5-1.5 1.5-0.9 1.4-0.3 1.5,0.3 1.5,0.9 1.5,1.5 1.4,2.2 3,5.8 2.9,7.1 4.5,12 2.9,8.8 3,9.6 8.9,31 2.9,9.5 3,8.6 2.9,7.9 4.4,10.6 4.5,9.6 4.4,8.9 5.9,11 5.9,10 5.9,8.9 4.5,5.9 4.4,5.1 5.9,5.7 5.9,4.6 5.9,3.6 5.9,2.8 5.9,2 6,1.6 7.3,1.5 7.4,1 10.4,1.1 26.6,1.8 38.4,1.7 45.8,1.1 57.6,0.7 76.8,0.4 0,2.2z" fill="#fff"/>
<path d="M12.2,419l0-117.8 5.9,4 4.5,2.2 4.4,1.4 4.4,0.4 3-0.4 1.5-0.4 2.9-1.3 3-2 1.5-1.3 2.9-3.3 3-4.3 2.9-5.5 1.5-3.2 3-7.5 4.4-13.4 8.9-29.6 2.9-8.4 1.5-3.6 2.9-6.1 1.5-2.3 1.5-1.9 1.5-1.5 1.5-0.9 1.4-0.3 1.5,0.3 1.5,0.9 1.5,1.5 1.4,2.2 3,5.8 2.9,7.1 4.5,12 2.9,8.8 3,9.6 8.9,31 2.9,9.5 3,8.6 2.9,7.9 4.4,10.6 4.5,9.6 4.4,8.9 5.9,11 5.9,10 5.9,8.9 4.5,5.9 4.4,5.1 5.9,5.7 5.9,4.6 5.9,3.6 5.9,2.8 5.9,2 6,1.6 7.3,1.5 7.4,1 10.4,1.1 26.6,1.8 38.4,1.7 45.8,1.1 57.6,0.7 76.8,0.4" stroke="#0000f0"/>
<path d="M9.1,423.3l0-115.2 5.9,3.8 4.4,2 4.5,1.3 4.4,0.3 3-0.4 1.4-0.3 3-1.3 2.9-2 1.5-1.3 3-3.3 2.9-4.4 3-5.8 1.5-3.5 2.9-7.9 4.5-14.4 7.3-26.1 3-9.3 2.9-7.9 3-6.2 1.5-2.4 1.5-1.9 1.4-1.3 1.5-0.8 1.5-0.1 1.5,0.5 1.4,1.2 1.5,1.9 1.5,2.5 1.5,3 2.9,7.1 4.5,12.1 2.9,9 4.4,15 7.4,26.8 3,9.8 2.9,9 3,8 4.4,10.9 4.5,9.8 4.4,9.1 5.9,11.2 5.9,10.2 5.9,9 4.5,5.9 4.4,5.2 5.9,5.7 5.9,4.6 5.9,3.6 4.4,2.1 6,2.2 5.9,1.6 7.3,1.5 7.4,1.1 10.4,1 28,1.8 38.5,1.6 47.2,1.1 57.6,0.7 76.9,0.3 0,2.3z" fill="#fff"/>
<path d="M9.1,423.3l0-115.2 5.9,3.8 4.4,2 4.5,1.3 4.4,0.3 3-0.4 1.4-0.3 3-1.3 2.9-2 1.5-1.3 3-3.3 2.9-4.4 3-5.8 1.5-3.5 2.9-7.9 4.5-14.4 7.3-26.1 3-9.3 2.9-7.9 3-6.2 1.5-2.4 1.5-1.9 1.4-1.3 1.5-0.8 1.5-0.1 1.5,0.5 1.4,1.2 1.5,1.9 1.5,2.5 1.5,3 2.9,7.1 4.5,12.1 2.9,9 4.4,15 7.4,26.8 3,9.8 2.9,9 3,8 4.4,10.9 4.5,9.8 4.4,9.1 5.9,11.2 5.9,10.2 5.9,9 4.5,5.9 4.4,5.2 5.9,5.7 5.9,4.6 5.9,3.6 4.4,2.1 6,2.2 5.9,1.6 7.3,1.5 7.4,1.1 10.4,1 28,1.8 38.5,1.6 47.2,1.1 57.6,0.7 76.9,0.3" stroke="#2080ff"/>
</g>
<path d="M7.9,424.9H465.9L612,225.1V3.1H154L7.9,202.9Z" fill="none" stroke="#0c1214" stroke-width="1.5" stroke-linejoin="miter"/>
<line x1="7.9" y1="424.9" x2="7.9" y2="427.7" stroke="#111" stroke-width="1.1"/>
<line x1="22.7" y1="424.9" x2="22.7" y2="430.2" stroke="#111" stroke-width="1.1"/>
<text x="22.7" y="452.8" font-size="25.5" text-anchor="middle">350</text>
<line x1="37.4" y1="424.9" x2="37.4" y2="427.7" stroke="#111" stroke-width="1.1"/>
<line x1="52.2" y1="424.9" x2="52.2" y2="427.7" stroke="#111" stroke-width="1.1"/>
<line x1="67" y1="424.9" x2="67" y2="427.7" stroke="#111" stroke-width="1.1"/>
<line x1="81.8" y1="424.9" x2="81.8" y2="427.7" stroke="#111" stroke-width="1.1"/>
<line x1="96.5" y1="424.9" x2="96.5" y2="430.2" stroke="#111" stroke-width="1.1"/>
<text x="96.5" y="452.8" font-size="25.5" text-anchor="middle">400</text>
<line x1="111.3" y1="424.9" x2="111.3" y2="427.7" stroke="#111" stroke-width="1.1"/>
<line x1="126.1" y1="424.9" x2="126.1" y2="427.7" stroke="#111" stroke-width="1.1"/>
<line x1="140.9" y1="424.9" x2="140.9" y2="427.7" stroke="#111" stroke-width="1.1"/>
<line x1="155.6" y1="424.9" x2="155.6" y2="427.7" stroke="#111" stroke-width="1.1"/>
<line x1="170.4" y1="424.9" x2="170.4" y2="430.2" stroke="#111" stroke-width="1.1"/>
<text x="170.4" y="452.8" font-size="25.5" text-anchor="middle">450</text>
<line x1="185.2" y1="424.9" x2="185.2" y2="427.7" stroke="#111" stroke-width="1.1"/>
<line x1="199.9" y1="424.9" x2="199.9" y2="427.7" stroke="#111" stroke-width="1.1"/>
<line x1="214.7" y1="424.9" x2="214.7" y2="427.7" stroke="#111" stroke-width="1.1"/>
<line x1="229.5" y1="424.9" x2="229.5" y2="427.7" stroke="#111" stroke-width="1.1"/>
<line x1="244.3" y1="424.9" x2="244.3" y2="430.2" stroke="#111" stroke-width="1.1"/>
<text x="244.3" y="452.8" font-size="25.5" text-anchor="middle">500</text>
<line x1="259" y1="424.9" x2="259" y2="427.7" stroke="#111" stroke-width="1.1"/>
<line x1="273.8" y1="424.9" x2="273.8" y2="427.7" stroke="#111" stroke-width="1.1"/>
<line x1="288.6" y1="424.9" x2="288.6" y2="427.7" stroke="#111" stroke-width="1.1"/>
<line x1="303.4" y1="424.9" x2="303.4" y2="427.7" stroke="#111" stroke-width="1.1"/>
<line x1="318.1" y1="424.9" x2="318.1" y2="430.2" stroke="#111" stroke-width="1.1"/>
<text x="318.1" y="452.8" font-size="25.5" text-anchor="middle">550</text>
<line x1="332.9" y1="424.9" x2="332.9" y2="427.7" stroke="#111" stroke-width="1.1"/>
<line x1="347.7" y1="424.9" x2="347.7" y2="427.7" stroke="#111" stroke-width="1.1"/>
<line x1="362.5" y1="424.9" x2="362.5" y2="427.7" stroke="#111" stroke-width="1.1"/>
<line x1="377.2" y1="424.9" x2="377.2" y2="427.7" stroke="#111" stroke-width="1.1"/>
<line x1="392" y1="424.9" x2="392" y2="430.2" stroke="#111" stroke-width="1.1"/>
<text x="392" y="452.8" font-size="25.5" text-anchor="middle">600</text>
<line x1="406.8" y1="424.9" x2="406.8" y2="427.7" stroke="#111" stroke-width="1.1"/>
<line x1="421.5" y1="424.9" x2="421.5" y2="427.7" stroke="#111" stroke-width="1.1"/>
<line x1="436.3" y1="424.9" x2="436.3" y2="427.7" stroke="#111" stroke-width="1.1"/>
<line x1="451.1" y1="424.9" x2="451.1" y2="427.7" stroke="#111" stroke-width="1.1"/>
<line x1="465.9" y1="424.9" x2="465.9" y2="430.2" stroke="#111" stroke-width="1.1"/>
<text x="465.9" y="452.8" font-size="25.5" text-anchor="middle">650</text>
<text x="612.8" y="238.6" font-size="19.3">0 mM</text>
<text x="542.7" y="335.1" font-size="19.3">3.3 mM</text>
<text x="473" y="428.5" font-size="19.3">5.9 mM</text>
<line x1="399.9" y1="171.1" x2="223.6" y2="206.3" stroke="#000" stroke-width="2.8" stroke-dasharray="13 12.5"/>
<path d="M208.6,209.3L226.3,198.5L223.6,206.3L229.1,212.4Z" fill="#000"/>
<line x1="205.2" y1="210.3" x2="129.7" y2="283.7" stroke="#000" stroke-width="2.8" stroke-dasharray="13 12.5"/>
<path d="M118.7,294.4L127.7,275.7L129.7,283.7L137.6,285.9Z" fill="#000"/>
<text transform="translate(51.8,34) scale(0.93,1.04)" font-size="47">a</text>
<text transform="translate(642.8,105.2) rotate(-90)" font-size="25.5" text-anchor="middle">absorbance (a.u)</text>
<text x="254.5" y="486.5" font-size="25.5" text-anchor="middle">wavelength (nm)</text>
<line x1="164" y1="729.4" x2="614" y2="729.4" stroke="#b9c9cd" stroke-width="1" stroke-dasharray="1 1"/>
<line x1="164" y1="721.4" x2="614" y2="721.4" stroke="#b9c9cd" stroke-width="1" stroke-dasharray="1 1"/>
<line x1="164" y1="713.3" x2="614" y2="713.3" stroke="#b9c9cd" stroke-width="1" stroke-dasharray="1 1"/>
<line x1="164" y1="705.3" x2="614" y2="705.3" stroke="#b9c9cd" stroke-width="1" stroke-dasharray="1 1"/>
<line x1="164" y1="697.2" x2="614" y2="697.2" stroke="#a9bec4" stroke-width="1.6"/>
<line x1="164" y1="689.1" x2="614" y2="689.1" stroke="#b9c9cd" stroke-width="1" stroke-dasharray="1 1"/>
<line x1="164" y1="681.1" x2="614" y2="681.1" stroke="#b9c9cd" stroke-width="1" stroke-dasharray="1 1"/>
<line x1="164" y1="673" x2="614" y2="673" stroke="#b9c9cd" stroke-width="1" stroke-dasharray="1 1"/>
<line x1="164" y1="665" x2="614" y2="665" stroke="#b9c9cd" stroke-width="1" stroke-dasharray="1 1"/>
<line x1="164" y1="656.9" x2="614" y2="656.9" stroke="#a9bec4" stroke-width="1.6"/>
<line x1="164" y1="648.8" x2="614" y2="648.8" stroke="#b9c9cd" stroke-width="1" stroke-dasharray="1 1"/>
<line x1="164" y1="640.8" x2="614" y2="640.8" stroke="#b9c9cd" stroke-width="1" stroke-dasharray="1 1"/>
<line x1="164" y1="632.7" x2="614" y2="632.7" stroke="#b9c9cd" stroke-width="1" stroke-dasharray="1 1"/>
<line x1="164" y1="624.7" x2="614" y2="624.7" stroke="#b9c9cd" stroke-width="1" stroke-dasharray="1 1"/>
<line x1="164" y1="616.6" x2="614" y2="616.6" stroke="#a9bec4" stroke-width="1.6"/>
<line x1="164" y1="608.5" x2="614" y2="608.5" stroke="#b9c9cd" stroke-width="1" stroke-dasharray="1 1"/>
<line x1="164" y1="600.5" x2="614" y2="600.5" stroke="#b9c9cd" stroke-width="1" stroke-dasharray="1 1"/>
<line x1="164" y1="592.4" x2="614" y2="592.4" stroke="#b9c9cd" stroke-width="1" stroke-dasharray="1 1"/>
<line x1="164" y1="584.4" x2="614" y2="584.4" stroke="#b9c9cd" stroke-width="1" stroke-dasharray="1 1"/>
<line x1="164" y1="576.3" x2="614" y2="576.3" stroke="#a9bec4" stroke-width="1.6"/>
<line x1="164" y1="568.2" x2="614" y2="568.2" stroke="#b9c9cd" stroke-width="1" stroke-dasharray="1 1"/>
<line x1="164" y1="560.2" x2="614" y2="560.2" stroke="#b9c9cd" stroke-width="1" stroke-dasharray="1 1"/>
<line x1="164" y1="552.1" x2="614" y2="552.1" stroke="#b9c9cd" stroke-width="1" stroke-dasharray="1 1"/>
<line x1="164" y1="544.1" x2="614" y2="544.1" stroke="#b9c9cd" stroke-width="1" stroke-dasharray="1 1"/>
<line x1="305.4" y1="536" x2="305.4" y2="737.5" stroke="#c9d6da" stroke-width="1" stroke-dasharray="1 1"/>
<line x1="318.3" y1="536" x2="318.3" y2="737.5" stroke="#c9d6da" stroke-width="1" stroke-dasharray="1 1"/>
<line x1="331.1" y1="536" x2="331.1" y2="737.5" stroke="#c9d6da" stroke-width="1" stroke-dasharray="1 1"/>
<line x1="344" y1="536" x2="344" y2="737.5" stroke="#c9d6da" stroke-width="1" stroke-dasharray="1 1"/>
<line x1="369.7" y1="536" x2="369.7" y2="737.5" stroke="#c9d6da" stroke-width="1" stroke-dasharray="1 1"/>
<line x1="382.6" y1="536" x2="382.6" y2="737.5" stroke="#c9d6da" stroke-width="1" stroke-dasharray="1 1"/>
<line x1="395.4" y1="536" x2="395.4" y2="737.5" stroke="#c9d6da" stroke-width="1" stroke-dasharray="1 1"/>
<line x1="408.3" y1="536" x2="408.3" y2="737.5" stroke="#c9d6da" stroke-width="1" stroke-dasharray="1 1"/>
<line x1="434" y1="536" x2="434" y2="737.5" stroke="#c9d6da" stroke-width="1" stroke-dasharray="1 1"/>
<line x1="446.9" y1="536" x2="446.9" y2="737.5" stroke="#c9d6da" stroke-width="1" stroke-dasharray="1 1"/>
<line x1="459.7" y1="536" x2="459.7" y2="737.5" stroke="#c9d6da" stroke-width="1" stroke-dasharray="1 1"/>
<line x1="472.6" y1="536" x2="472.6" y2="737.5" stroke="#c9d6da" stroke-width="1" stroke-dasharray="1 1"/>
<line x1="498.3" y1="536" x2="498.3" y2="737.5" stroke="#c9d6da" stroke-width="1" stroke-dasharray="1 1"/>
<line x1="511.1" y1="536" x2="511.1" y2="737.5" stroke="#c9d6da" stroke-width="1" stroke-dasharray="1 1"/>
<line x1="524" y1="536" x2="524" y2="737.5" stroke="#c9d6da" stroke-width="1" stroke-dasharray="1 1"/>
<line x1="536.9" y1="536" x2="536.9" y2="737.5" stroke="#c9d6da" stroke-width="1" stroke-dasharray="1 1"/>
<line x1="562.6" y1="536" x2="562.6" y2="737.5" stroke="#c9d6da" stroke-width="1" stroke-dasharray="1 1"/>
<line x1="575.4" y1="536" x2="575.4" y2="737.5" stroke="#c9d6da" stroke-width="1" stroke-dasharray="1 1"/>
<line x1="588.3" y1="536" x2="588.3" y2="737.5" stroke="#c9d6da" stroke-width="1" stroke-dasharray="1 1"/>
<line x1="601.1" y1="536" x2="601.1" y2="737.5" stroke="#c9d6da" stroke-width="1" stroke-dasharray="1 1"/>
<line x1="292.6" y1="536" x2="292.6" y2="737.5" stroke="#7b959c" stroke-width="1.3"/>
<line x1="356.9" y1="536" x2="356.9" y2="737.5" stroke="#7b959c" stroke-width="1.3"/>
<line x1="421.1" y1="536" x2="421.1" y2="737.5" stroke="#7b959c" stroke-width="1.3"/>
<line x1="164" y1="737.5" x2="614" y2="737.5" stroke="#9fb2b8" stroke-width="1"/>
<line x1="24.2" y1="716.7" x2="24.2" y2="918.2" stroke="#94a6ab" stroke-width="1"/>
<line x1="28.8" y1="710.8" x2="28.8" y2="912.3" stroke="#94a6ab" stroke-width="1"/>
<line x1="33.4" y1="704.9" x2="33.4" y2="906.4" stroke="#94a6ab" stroke-width="1"/>
<line x1="38.1" y1="699" x2="38.1" y2="900.5" stroke="#94a6ab" stroke-width="1"/>
<line x1="42.7" y1="693.1" x2="42.7" y2="894.6" stroke="#94a6ab" stroke-width="1"/>
<line x1="47.3" y1="687.2" x2="47.3" y2="888.7" stroke="#94a6ab" stroke-width="1"/>
<line x1="51.9" y1="681.3" x2="51.9" y2="882.8" stroke="#94a6ab" stroke-width="1"/>
<line x1="56.5" y1="675.3" x2="56.5" y2="876.8" stroke="#94a6ab" stroke-width="1"/>
<line x1="61.2" y1="669.4" x2="61.2" y2="870.9" stroke="#94a6ab" stroke-width="1"/>
<line x1="65.8" y1="663.5" x2="65.8" y2="865" stroke="#94a6ab" stroke-width="1"/>
<line x1="70.4" y1="657.6" x2="70.4" y2="859.1" stroke="#94a6ab" stroke-width="1"/>
<line x1="75" y1="651.7" x2="75" y2="853.2" stroke="#94a6ab" stroke-width="1"/>
<line x1="79.6" y1="645.8" x2="79.6" y2="847.3" stroke="#94a6ab" stroke-width="1"/>
<line x1="84.3" y1="639.9" x2="84.3" y2="841.4" stroke="#94a6ab" stroke-width="1"/>
<line x1="88.9" y1="633.9" x2="88.9" y2="835.4" stroke="#94a6ab" stroke-width="1"/>
<line x1="21.8" y1="881" x2="164" y2="697.2" stroke="#a5b3b7" stroke-width="0.8" stroke-dasharray="3 2"/>
<line x1="21.8" y1="840.7" x2="164" y2="656.9" stroke="#a5b3b7" stroke-width="0.8" stroke-dasharray="3 2"/>
<line x1="21.8" y1="800.4" x2="164" y2="616.6" stroke="#a5b3b7" stroke-width="0.8" stroke-dasharray="3 2"/>
<line x1="21.8" y1="760.1" x2="164" y2="576.3" stroke="#a5b3b7" stroke-width="0.8" stroke-dasharray="3 2"/>
<line x1="86.1" y1="921.3" x2="228.3" y2="737.5" stroke="#b8c3c6" stroke-width="0.7" stroke-dasharray="3 2"/>
<line x1="150.4" y1="921.3" x2="292.6" y2="737.5" stroke="#b8c3c6" stroke-width="0.7" stroke-dasharray="3 2"/>
<line x1="214.7" y1="921.3" x2="356.9" y2="737.5" stroke="#b8c3c6" stroke-width="0.7" stroke-dasharray="3 2"/>
<line x1="278.9" y1="921.3" x2="421.1" y2="737.5" stroke="#b8c3c6" stroke-width="0.7" stroke-dasharray="3 2"/>
<line x1="343.2" y1="921.3" x2="485.4" y2="737.5" stroke="#b8c3c6" stroke-width="0.7" stroke-dasharray="3 2"/>
<line x1="407.5" y1="921.3" x2="549.7" y2="737.5" stroke="#b8c3c6" stroke-width="0.7" stroke-dasharray="3 2"/>
<g stroke-width="2.0" stroke-linejoin="round" fill="none">
<path d="M162.8,740.8l0-201.5 101.2,0 6.8,20.6 7.7,25.2 2.6,7.4 2.6,6.3 3.8,7.6 3.9,6 3.8,4.9 5.2,5.7 5.1,4.7 5.2,4.1 5.1,3.5 6.4,3.7 6.5,3 6.4,2.3 6.4,1.7 6.4,1 5.2,0.1 3.8-0.3 3.9-0.8 3.9-1.1 3.8-1.7 3.9-2 12.8-8 2.6-1.3 2.6-0.9 2.5-0.4 2.6,0.2 2.6,1.1 1.3,0.8 2.5,2.5 1.3,1.7 2.6,4 2.6,5.1 3.8,9.1 9,24.4 3.9,9.9 3.8,8.8 5.2,10.1 2.6,4.2 2.5,3.8 2.6,3.4 2.6,3 2.5,2.7 2.6,2.3 2.6,1.9 3.8,2.5 3.9,1.9 2.6,0.8 18,2 21.8,1.4 20.6,0.9 24.4,0.7 65.6,0.6 0,0.4z" fill="#fff"/>
<path d="M264,539.3l6.8,20.6 7.7,25.2 2.6,7.4 2.6,6.3 3.8,7.6 3.9,6 3.8,4.9 5.2,5.7 5.1,4.7 5.2,4.1 5.1,3.5 6.4,3.7 6.5,3 6.4,2.3 6.4,1.7 6.4,1 5.2,0.1 3.8-0.3 3.9-0.8 3.9-1.1 3.8-1.7 3.9-2 12.8-8 2.6-1.3 2.6-0.9 2.5-0.4 2.6,0.2 2.6,1.1 1.3,0.8 2.5,2.5 1.3,1.7 2.6,4 2.6,5.1 3.8,9.1 9,24.4 3.9,9.9 3.8,8.8 5.2,10.1 2.6,4.2 2.5,3.8 2.6,3.4 2.6,3 2.5,2.7 2.6,2.3 2.6,1.9 3.8,2.5 3.9,1.9 2.6,0.8 18,2 21.8,1.4 20.6,0.9 24.4,0.7 65.6,0.6" stroke="#ff0000"/>
<path d="M158.2,746.8l0-201.5 92.9,0 6.1,18.8 6.4,18.5 6.4,17.1 5.2,12.1 5.1,10.5 3.9,6.7 5.1,7.4 5.2,5.9 2.5,2.5 3.9,3.2 2.6,1.8 3.8,2.3 3.9,1.8 3.8,1.6 3.9,1.3 5.1,1.3 9,1.4 5.2,0.4 5.1,0.2 9-0.1 16.7-1 6.5,0 3.8,0.4 3.9,1 2.5,1 2.6,1.4 3.9,3.2 2.5,2.8 2.6,3.6 2.6,4.3 3.8,7.5 10.3,22.8 3.9,7.3 2.6,4.1 2.5,3.5 3.9,4.2 2.6,2.2 3.8,2.6 3.9,1.9 5.1,2.1 5.2,1.6 6.4,1.6 12.8,2.6 16.8,1.8 21.8,1.6 27,1.1 32.2,0.7 43.7,0.4 0,0.5z" fill="#fff"/>
<path d="M251.1,545.3l6.1,18.8 6.4,18.5 6.4,17.1 5.2,12.1 5.1,10.5 3.9,6.7 5.1,7.4 5.2,5.9 2.5,2.5 3.9,3.2 2.6,1.8 3.8,2.3 3.9,1.8 3.8,1.6 3.9,1.3 5.1,1.3 9,1.4 5.2,0.4 5.1,0.2 9-0.1 16.7-1 6.5,0 3.8,0.4 3.9,1 2.5,1 2.6,1.4 3.9,3.2 2.5,2.8 2.6,3.6 2.6,4.3 3.8,7.5 10.3,22.8 3.9,7.3 2.6,4.1 2.5,3.5 3.9,4.2 2.6,2.2 3.8,2.6 3.9,1.9 5.1,2.1 5.2,1.6 6.4,1.6 12.8,2.6 16.8,1.8 21.8,1.6 27,1.1 32.2,0.7 43.7,0.4" stroke="#00f000"/>
<path d="M153.6,752.7l0-201.5 89.3,0 3.2,7.8 7.7,17.8 9,25.3 2.6,6.3 2.6,5.6 6.4,12.9 5.2,9.4 2.5,4.2 2.6,3.6 3.9,4.6 2.5,2.5 2.6,2 5.1,3.3 6.5,3 7.7,2.7 9,2.4 9,1.8 9,1.4 19.3,2.6 7.7,1.4 3.8,1.1 3.9,1.3 3.9,1.8 2.5,1.5 3.9,2.8 2.6,2.4 3.8,4.4 2.6,3.5 2.6,4 3.8,6.6 11.6,21.8 3.8,6.3 2.6,3.7 2.6,3.2 3.8,3.9 2.6,2.1 3.9,2.5 3.8,1.8 9,1.1 18,1.6 21.9,1.3 21.8,0.7 25.8,0.6 72,0.5 0,0.4z" fill="#fff"/>
<path d="M242.9,551.2l3.2,7.8 7.7,17.8 9,25.3 2.6,6.3 2.6,5.6 6.4,12.9 5.2,9.4 2.5,4.2 2.6,3.6 3.9,4.6 2.5,2.5 2.6,2 5.1,3.3 6.5,3 7.7,2.7 9,2.4 9,1.8 9,1.4 19.3,2.6 7.7,1.4 3.8,1.1 3.9,1.3 3.9,1.8 2.5,1.5 3.9,2.8 2.6,2.4 3.8,4.4 2.6,3.5 2.6,4 3.8,6.6 11.6,21.8 3.8,6.3 2.6,3.7 2.6,3.2 3.8,3.9 2.6,2.1 3.9,2.5 3.8,1.8 9,1.1 18,1.6 21.9,1.3 21.8,0.7 25.8,0.6 72,0.5" stroke="#0000f0"/>
<path d="M148.9,758.6l0-201.5 84,0 3.5,9.5 5.1,13.1 20.6,49 3.8,7.7 3.9,6.3 3.9,5 3.8,4.2 6.4,5.8 3.9,2.9 3.9,2.6 3.8,2.3 5.2,2.7 9,4 9,3.1 9,2.4 9,1.9 19.2,3.4 6.5,1.5 6.4,2.2 3.9,1.9 2.5,1.5 3.9,2.9 2.6,2.3 2.5,2.8 3.9,4.8 5.1,7.7 10.3,16.8 3.9,5.6 2.5,3.3 2.6,2.9 3.9,3.7 2.5,1.9 3.9,2.4 2.6,1.2 3.8,1.5 3.9,1.1 5.1,1 16.7,2 19.3,1.5 21.9,1.1 27,0.8 32.1,0.5 43.7,0.3 0,0.4z" fill="#fff"/>
<path d="M232.9,557.1l3.5,9.5 5.1,13.1 20.6,49 3.8,7.7 3.9,6.3 3.9,5 3.8,4.2 6.4,5.8 3.9,2.9 3.9,2.6 3.8,2.3 5.2,2.7 9,4 9,3.1 9,2.4 9,1.9 19.2,3.4 6.5,1.5 6.4,2.2 3.9,1.9 2.5,1.5 3.9,2.9 2.6,2.3 2.5,2.8 3.9,4.8 5.1,7.7 10.3,16.8 3.9,5.6 2.5,3.3 2.6,2.9 3.9,3.7 2.5,1.9 3.9,2.4 2.6,1.2 3.8,1.5 3.9,1.1 5.1,1 16.7,2 19.3,1.5 21.9,1.1 27,0.8 32.1,0.5 43.7,0.3" stroke="#30f0c8"/>
<path d="M144.3,764.5l0-201.5 84.8,0 6.5,17.8 6.4,16.3 6.5,15.2 6.4,13.8 5.1,9.8 5.2,8.5 5.1,7.2 2.6,3.1 3.8,4 3.9,3.5 5.1,3.8 3.9,2.4 5.1,2.6 9,3.5 20.6,6.6 9,3.2 7.7,3.4 11.6,5.8 3.9,1.5 5.1,1.9 3.9,1.9 2.5,2 2.6,2.5 9,10.9 3.9,4.3 9,8.4 7.7,6.6 6.4,5 6.4,4.4 6.5,3.9 5.1,2.6 5.1,2.3 5.2,2 6.4,2.1 10.3,2.5 12.9,1.5 23.1,1.8 27,1.2 34.7,0.8 45,0.4 0,0.5z" fill="#fff"/>
<path d="M229.1,563l6.5,17.8 6.4,16.3 6.5,15.2 6.4,13.8 5.1,9.8 5.2,8.5 5.1,7.2 2.6,3.1 3.8,4 3.9,3.5 5.1,3.8 3.9,2.4 5.1,2.6 9,3.5 20.6,6.6 9,3.2 7.7,3.4 11.6,5.8 3.9,1.5 5.1,1.9 3.9,1.9 2.5,2 2.6,2.5 9,10.9 3.9,4.3 9,8.4 7.7,6.6 6.4,5 6.4,4.4 6.5,3.9 5.1,2.6 5.1,2.3 5.2,2 6.4,2.1 10.3,2.5 12.9,1.5 23.1,1.8 27,1.2 34.7,0.8 45,0.4" stroke="#7000f8"/>
<path d="M139.7,770.4l0-201.5 79.9,0 3.7,8.6 9,19.6 11.5,25.9 7.8,15.9 5.1,9.2 3.9,6 3.8,5.2 5.2,5.9 5.1,4.8 5.1,4 6.5,4.3 7.7,4.3 7.7,3.7 7.7,3.3 7.7,3 16.7,6.1 6.5,2.6 6.4,3.2 6.4,4.1 3.9,3.1 2.6,2.4 5.1,5.5 5.1,6.5 11.6,15.8 6.4,7.7 2.6,2.6 3.9,3.4 2.5,1.9 3.9,2.4 5.1,2.3 6.5,2.1 18,1.9 21.8,1.6 24.5,1 28.2,0.6 36,0.5 48.9,0.2 0,0.3z" fill="#fff"/>
<path d="M219.6,568.9l3.7,8.6 9,19.6 11.5,25.9 7.8,15.9 5.1,9.2 3.9,6 3.8,5.2 5.2,5.9 5.1,4.8 5.1,4 6.5,4.3 7.7,4.3 7.7,3.7 7.7,3.3 7.7,3 16.7,6.1 6.5,2.6 6.4,3.2 6.4,4.1 3.9,3.1 2.6,2.4 5.1,5.5 5.1,6.5 11.6,15.8 6.4,7.7 2.6,2.6 3.9,3.4 2.5,1.9 3.9,2.4 5.1,2.3 6.5,2.1 18,1.9 21.8,1.6 24.5,1 28.2,0.6 36,0.5 48.9,0.2" stroke="#3c5800"/>
<path d="M135.1,776.3l0-201.5 76.5,0 3.2,6.2 5.1,9 3.9,7.2 12.9,26.8 11.5,22.3 9,19.6 3.9,6.6 3.8,4.7 3.9,3.6 5.1,3.9 6.5,4.1 7.7,4.2 7.7,3.5 7.7,3.1 21.9,7.5 6.4,2.4 6.4,2.9 6.4,3.8 3.9,2.9 2.6,2.2 2.5,2.5 3.9,4.2 5.1,6.3 11.6,15.4 5.2,6 3.8,3.8 2.6,2.1 2.6,1.9 3.8,2.4 5.2,2.4 3.8,1.3 2.6,0.7 19.3,2 21.8,1.5 24.5,1 28.2,0.6 37.3,0.4 50.2,0.2 0,0.3z" fill="#fff"/>
<path d="M211.6,574.8l3.2,6.2 5.1,9 3.9,7.2 12.9,26.8 11.5,22.3 9,19.6 3.9,6.6 3.8,4.7 3.9,3.6 5.1,3.9 6.5,4.1 7.7,4.2 7.7,3.5 7.7,3.1 21.9,7.5 6.4,2.4 6.4,2.9 6.4,3.8 3.9,2.9 2.6,2.2 2.5,2.5 3.9,4.2 5.1,6.3 11.6,15.4 5.2,6 3.8,3.8 2.6,2.1 2.6,1.9 3.8,2.4 5.2,2.4 3.8,1.3 2.6,0.7 19.3,2 21.8,1.5 24.5,1 28.2,0.6 37.3,0.4 50.2,0.2" stroke="#0000f0"/>
<path d="M130.5,782.2l0-201.5 68.2,0 2.5,3.7 5.1,7 2.6,4.2 11.6,23.1 3.8,7.1 3.9,6.5 3.8,6 11.6,17.1 10.3,17.8 2.6,3.7 3.8,4.5 3.9,3.6 3.8,3.1 5.2,3.6 6.4,4 11.6,6.2 27,12.9 7.7,4.4 6.4,4.2 6.4,4.9 6.5,5.7 18,18 7.7,7.1 3.8,3.1 3.9,2.7 6.4,3.9 3.9,1.9 5.1,2.1 5.2,1.6 6.4,1.5 12.9,1.6 18,1.5 24.4,1.3 29.6,0.8 37.2,0.5 52.8,0.3 0,0.3z" fill="#fff"/>
<path d="M198.7,580.7l2.5,3.7 5.1,7 2.6,4.2 11.6,23.1 3.8,7.1 3.9,6.5 3.8,6 11.6,17.1 10.3,17.8 2.6,3.7 3.8,4.5 3.9,3.6 3.8,3.1 5.2,3.6 6.4,4 11.6,6.2 27,12.9 7.7,4.4 6.4,4.2 6.4,4.9 6.5,5.7 18,18 7.7,7.1 3.8,3.1 3.9,2.7 6.4,3.9 3.9,1.9 5.1,2.1 5.2,1.6 6.4,1.5 12.9,1.6 18,1.5 24.4,1.3 29.6,0.8 37.2,0.5 52.8,0.3" stroke="#3010e8"/>
<path d="M125.8,788.1l0-201.5 57.7,0 1.5,1.5 1.3,0.7 1.3,0.4 3.8,0.8 1.3,0.5 2.6,1.9 2.5,3 3.9,5.9 10.3,18.1 5.1,8.6 6.5,10.1 12.8,18.9 3.9,6.4 7.7,13.5 2.6,3.9 2.5,3.4 5.2,5.6 3.8,3.5 5.2,4.2 6.4,4.7 6.4,4.4 11.6,7 23.1,13 6.5,4 5.1,3.4 5.2,3.7 5.1,4 18,15.4 6.4,5.2 7.7,5.4 6.5,3.6 5.1,2.5 5.2,2 6.4,2 6.4,1.5 6.4,1.2 7.8,1.2 20.5,2.1 25.7,1.6 29.6,1.2 37.3,0.7 50.1,0.4 0,0.4z" fill="#fff"/>
<path d="M183.5,586.6l1.5,1.5 1.3,0.7 1.3,0.4 3.8,0.8 1.3,0.5 2.6,1.9 2.5,3 3.9,5.9 10.3,18.1 5.1,8.6 6.5,10.1 12.8,18.9 3.9,6.4 7.7,13.5 2.6,3.9 2.5,3.4 5.2,5.6 3.8,3.5 5.2,4.2 6.4,4.7 6.4,4.4 11.6,7 23.1,13 6.5,4 5.1,3.4 5.2,3.7 5.1,4 18,15.4 6.4,5.2 7.7,5.4 6.5,3.6 5.1,2.5 5.2,2 6.4,2 6.4,1.5 6.4,1.2 7.8,1.2 20.5,2.1 25.7,1.6 29.6,1.2 37.3,0.7 50.1,0.4" stroke="#4c0008"/>
<path d="M121.2,794.1l0-201.5 28.5,0 2.4,3.8 2.5,3.2 2.6,2.3 2.6,1.6 2.6,1.2 2.5,0.8 11.6,2 3.9,1 2.5,0.9 3.9,1.9 2.6,1.7 2.5,1.9 3.9,3.5 2.6,2.7 3.8,4.5 6.4,8.5 16.8,24.5 11.5,16.3 9,13.9 2.6,3.7 3.9,4.6 5.1,5 7.7,6 28.3,19.8 28.3,21 10.3,7.3 7.7,5.1 6.4,4 7.7,4.3 6.5,3.2 7.7,3.4 7.7,2.9 7.7,2.5 7.7,2 7.7,1.8 9,1.6 7.7,1.2 11.6,1.2 11.6,1 12.8,0.9 29.6,1.2 37.3,0.8 52.7,0.4 0,0.4z" fill="#fff"/>
<path d="M149.7,592.6l2.4,3.8 2.5,3.2 2.6,2.3 2.6,1.6 2.6,1.2 2.5,0.8 11.6,2 3.9,1 2.5,0.9 3.9,1.9 2.6,1.7 2.5,1.9 3.9,3.5 2.6,2.7 3.8,4.5 6.4,8.5 16.8,24.5 11.5,16.3 9,13.9 2.6,3.7 3.9,4.6 5.1,5 7.7,6 28.3,19.8 28.3,21 10.3,7.3 7.7,5.1 6.4,4 7.7,4.3 6.5,3.2 7.7,3.4 7.7,2.9 7.7,2.5 7.7,2 7.7,1.8 9,1.6 7.7,1.2 11.6,1.2 11.6,1 12.8,0.9 29.6,1.2 37.3,0.8 52.7,0.4" stroke="#00f000"/>
<path d="M116.6,800l0-201.5 21.2,0 3.2,7.3 2.6,4.5 1.3,1.8 2.6,2.9 1.2,1.2 2.6,1.7 2.6,1.2 2.6,0.7 14.1,2.2 3.9,0.9 5.1,1.7 5.1,2 3.9,1.8 3.9,2.3 3.8,2.9 2.6,2.4 2.6,2.7 2.5,3 3.9,5.1 5.1,7.7 12.9,20.2 5.1,7.4 3.9,5.3 3.8,4.8 5.2,6.1 5.1,5.5 6.5,6.5 10.2,9.6 14.2,12.4 12.8,10.7 11.6,9 10.3,7.4 9,5.8 9,5.2 10.3,5.2 7.7,3.4 9,3.4 7.7,2.5 9,2.5 9,2.1 10.3,1.9 10.3,1.6 11.6,1.4 12.8,1.2 12.9,1 30.8,1.5 39.9,0.9 52.7,0.5 0,0.5z" fill="#fff"/>
<path d="M137.8,598.5l3.2,7.3 2.6,4.5 1.3,1.8 2.6,2.9 1.2,1.2 2.6,1.7 2.6,1.2 2.6,0.7 14.1,2.2 3.9,0.9 5.1,1.7 5.1,2 3.9,1.8 3.9,2.3 3.8,2.9 2.6,2.4 2.6,2.7 2.5,3 3.9,5.1 5.1,7.7 12.9,20.2 5.1,7.4 3.9,5.3 3.8,4.8 5.2,6.1 5.1,5.5 6.5,6.5 10.2,9.6 14.2,12.4 12.8,10.7 11.6,9 10.3,7.4 9,5.8 9,5.2 10.3,5.2 7.7,3.4 9,3.4 7.7,2.5 9,2.5 9,2.1 10.3,1.9 10.3,1.6 11.6,1.4 12.8,1.2 12.9,1 30.8,1.5 39.9,0.9 52.7,0.5" stroke="#007050"/>
<path d="M112,805.9l0-201.5 17.5,0 4.3,11.6 2.6,5.7 1.3,2.4 2.6,4 1.3,1.6 2.5,2.6 1.3,1 2.6,1.5 2.6,1.1 2.5,0.6 5.2,0.7 12.8,0.4 3.9,0.5 2.6,0.6 3.8,1.3 2.6,1.2 3.8,2.3 2.6,1.9 2.6,2.1 3.8,3.7 3.9,4.3 3.9,4.7 6.4,8.5 16.7,23.3 6.4,8.5 5.2,6.3 10.2,11.7 11.6,11.8 6.4,6 7.8,6.8 7.7,6.3 7.7,5.9 7.7,5.5 25.7,17.7 6.4,3.9 5.2,2.6 6.4,2.7 7.7,2.7 7.7,2.2 9,2.1 10.3,2.1 10.3,1.6 11.6,1.5 11.6,1.1 12.8,1 14.2,0.9 32.1,1.3 39.9,0.8 52.7,0.4 0,0.5z" fill="#fff"/>
<path d="M129.5,604.4l4.3,11.6 2.6,5.7 1.3,2.4 2.6,4 1.3,1.6 2.5,2.6 1.3,1 2.6,1.5 2.6,1.1 2.5,0.6 5.2,0.7 12.8,0.4 3.9,0.5 2.6,0.6 3.8,1.3 2.6,1.2 3.8,2.3 2.6,1.9 2.6,2.1 3.8,3.7 3.9,4.3 3.9,4.7 6.4,8.5 16.7,23.3 6.4,8.5 5.2,6.3 10.2,11.7 11.6,11.8 6.4,6 7.8,6.8 7.7,6.3 7.7,5.9 7.7,5.5 25.7,17.7 6.4,3.9 5.2,2.6 6.4,2.7 7.7,2.7 7.7,2.2 9,2.1 10.3,2.1 10.3,1.6 11.6,1.5 11.6,1.1 12.8,1 14.2,0.9 32.1,1.3 39.9,0.8 52.7,0.4" stroke="#0000f0"/>
<path d="M107.4,811.8l0-201.5 12.2,0 5.8,16.2 3.8,8.9 2.6,4.8 2.6,3.9 2.5,3.1 2.6,2.5 2.6,1.9 2.5,1.5 2.6,0.9 2.6,0.6 2.6,0.3 3.8-0.1 12.9-2 3.8-0.3 2.6,0.1 3.9,0.6 2.5,0.8 3.9,2 2.6,1.8 2.5,2.2 2.6,2.6 2.6,3 3.8,5.1 5.2,7.8 14.1,23.3 3.9,5.7 3.8,5.1 6.5,7.4 28.2,28.8 7.8,7.3 6.4,5.6 7.7,6 7.7,5.6 9,5.9 9,5.5 9,5 7.7,3.8 6.5,2.7 7.7,2.8 7.7,2.4 7.7,1.9 6.4,1.3 7.7,1.2 10.3,1.2 11.6,1 27,1.6 33.4,1.1 42.5,0.5 63,0.3 0,0.3z" fill="#fff"/>
<path d="M119.6,610.3l5.8,16.2 3.8,8.9 2.6,4.8 2.6,3.9 2.5,3.1 2.6,2.5 2.6,1.9 2.5,1.5 2.6,0.9 2.6,0.6 2.6,0.3 3.8-0.1 12.9-2 3.8-0.3 2.6,0.1 3.9,0.6 2.5,0.8 3.9,2 2.6,1.8 2.5,2.2 2.6,2.6 2.6,3 3.8,5.1 5.2,7.8 14.1,23.3 3.9,5.7 3.8,5.1 6.5,7.4 28.2,28.8 7.8,7.3 6.4,5.6 7.7,6 7.7,5.6 9,5.9 9,5.5 9,5 7.7,3.8 6.5,2.7 7.7,2.8 7.7,2.4 7.7,1.9 6.4,1.3 7.7,1.2 10.3,1.2 11.6,1 27,1.6 33.4,1.1 42.5,0.5 63,0.3" stroke="#ff4800"/>
<path d="M102.7,817.7l0-201.5 9.1,0 8.9,23.5 5.2,11.9 3.8,7.4 2.6,4 2.6,3.3 2.6,2.5 2.5,1.9 2.6,1.2 2.6,0.6 3.8-0.1 2.6-0.5 2.6-0.9 9-4.2 3.8-1.6 3.9-0.9 2.6-0.2 2.5,0.3 2.6,0.7 2.6,1.3 2.5,1.8 2.6,2.2 2.6,2.7 5.1,6.6 5.2,7.7 12.8,20.4 5.2,7.5 3.8,5.2 6.5,7.8 11.5,12.8 11.6,13.7 5.1,5.5 5.2,5 6.4,5.6 9,7.2 7.7,5.8 7.7,5.2 6.5,4 6.4,3.5 6.4,3.1 6.5,2.8 7.7,2.7 7.7,2.3 7.7,1.8 7.7,1.5 7.7,1.1 11.6,1.3 12.9,1.1 27,1.4 34.7,1 45,0.5 65.5,0.2 0,0.3z" fill="#fff"/>
<path d="M111.8,616.2l8.9,23.5 5.2,11.9 3.8,7.4 2.6,4 2.6,3.3 2.6,2.5 2.5,1.9 2.6,1.2 2.6,0.6 3.8-0.1 2.6-0.5 2.6-0.9 9-4.2 3.8-1.6 3.9-0.9 2.6-0.2 2.5,0.3 2.6,0.7 2.6,1.3 2.5,1.8 2.6,2.2 2.6,2.7 5.1,6.6 5.2,7.7 12.8,20.4 5.2,7.5 3.8,5.2 6.5,7.8 11.5,12.8 11.6,13.7 5.1,5.5 5.2,5 6.4,5.6 9,7.2 7.7,5.8 7.7,5.2 6.5,4 6.4,3.5 6.4,3.1 6.5,2.8 7.7,2.7 7.7,2.3 7.7,1.8 7.7,1.5 7.7,1.1 11.6,1.3 12.9,1.1 27,1.4 34.7,1 45,0.5 65.5,0.2" stroke="#0000f0"/>
<path d="M98.1,823.6l0-201.5 5.5,0 9.9,27.6 6.5,16 2.5,5.5 2.6,4.8 2.6,4 2.6,3 1.2,1.2 2.6,1.7 2.6,0.9 2.6,0.1 2.5-0.6 2.6-1 12.9-6.9 3.8-1.6 3.9-1.1 2.5-0.5 2.6-0.2 3.9,0.3 3.8,1.3 2.6,1.6 3.9,3.3 2.5,2.8 2.6,3.3 5.1,7.5 15.5,23.7 6.4,9.1 7.7,10.4 14.2,17.8 11.5,13.4 6.5,6.8 5.1,5 6.4,5.7 5.2,4.2 5.1,3.7 6.4,4.2 6.5,3.6 6.4,3.2 6.4,2.6 7.7,2.7 7.8,2.2 9,2 7.7,1.4 9,1.2 11.5,1.3 12.9,1 28.3,1.5 34.7,0.8 46.3,0.5 69.4,0.3 0,0.2z" fill="#fff"/>
<path d="M103.6,622.1l9.9,27.6 6.5,16 2.5,5.5 2.6,4.8 2.6,4 2.6,3 1.2,1.2 2.6,1.7 2.6,0.9 2.6,0.1 2.5-0.6 2.6-1 12.9-6.9 3.8-1.6 3.9-1.1 2.5-0.5 2.6-0.2 3.9,0.3 3.8,1.3 2.6,1.6 3.9,3.3 2.5,2.8 2.6,3.3 5.1,7.5 15.5,23.7 6.4,9.1 7.7,10.4 14.2,17.8 11.5,13.4 6.5,6.8 5.1,5 6.4,5.7 5.2,4.2 5.1,3.7 6.4,4.2 6.5,3.6 6.4,3.2 6.4,2.6 7.7,2.7 7.8,2.2 9,2 7.7,1.4 9,1.2 11.5,1.3 12.9,1 28.3,1.5 34.7,0.8 46.3,0.5 69.4,0.3" stroke="#ff00ff"/>
<path d="M93.5,829.5l0-201.5 2.7,0 1.2,3.9 5.1,13 7.7,24.6 3.9,10.3 2.5,5.7 2.6,4.6 2.6,3.9 2.6,2.9 2.5,2.3 1.3,0.8 2.6,1.1 2.6,0.5 1.2,0.1 2.6-0.4 2.6-0.9 3.8-2.2 3.9-2.8 9-7.5 3.9-2.5 2.5-1.3 2.6-0.7 1.3-0.1 2.6,0.1 2.5,0.7 2.6,1.4 2.6,1.9 2.5,2.4 2.6,3 2.6,3.3 5.1,7.5 16.7,26.2 16.8,24.7 9,12.3 3.8,4.7 3.9,4.4 5.1,5.1 5.2,4.5 6.4,5.1 6.4,4.6 7.7,5.1 7.7,4.6 7.8,4.2 6.4,3.1 6.4,2.7 7.7,2.8 7.7,2.3 7.8,1.8 9,1.7 5.1,0.6 11.6,1.2 12.8,1 28.3,1.4 36,0.9 46.3,0.5 72,0.2 0,0.2z" fill="#fff"/>
<path d="M96.2,628l1.2,3.9 5.1,13 7.7,24.6 3.9,10.3 2.5,5.7 2.6,4.6 2.6,3.9 2.6,2.9 2.5,2.3 1.3,0.8 2.6,1.1 2.6,0.5 1.2,0.1 2.6-0.4 2.6-0.9 3.8-2.2 3.9-2.8 9-7.5 3.9-2.5 2.5-1.3 2.6-0.7 1.3-0.1 2.6,0.1 2.5,0.7 2.6,1.4 2.6,1.9 2.5,2.4 2.6,3 2.6,3.3 5.1,7.5 16.7,26.2 16.8,24.7 9,12.3 3.8,4.7 3.9,4.4 5.1,5.1 5.2,4.5 6.4,5.1 6.4,4.6 7.7,5.1 7.7,4.6 7.8,4.2 6.4,3.1 6.4,2.7 7.7,2.8 7.7,2.3 7.8,1.8 9,1.7 5.1,0.6 11.6,1.2 12.8,1 28.3,1.4 36,0.9 46.3,0.5 72,0.2" stroke="#4c0008"/>
<path d="M88.9,835.4l0-197.8 16.7,45.1 3.9,9.2 2.5,5.1 3.9,6.1 2.6,3.4 3.8,4.1 3.9,3 3.8,2 2.6,0.8 1.3,0.2 2.6-0.1 1.2-0.4 1.3-0.6 1.3-0.8 2.6-2.7 7.7-12.4 2.6-2.9 2.5-1.9 2.6-1.4 2.6-0.8 2.6-0.5 2.5-0.1 2.6,0.3 2.6,0.7 3.8,2 2.6,1.9 3.9,3.7 3.8,4.8 3.9,5.7 6.4,11.2 14.1,27.6 6.5,11.8 3.8,6.4 3.9,5.9 3.8,5.3 3.9,4.7 3.8,4.2 5.2,4.9 5.1,4.2 5.2,3.7 7.7,5.1 9,5.3 7.7,4.2 6.4,3.1 6.5,2.6 6.4,2.1 7.7,2 7.7,1.6 7.7,1.2 9,1 12.9,1.2 14.1,1 32.2,1.6 38.5,1.1 48.9,0.6 65.6,0.4 0,0.3z" fill="#fff"/>
<path d="M88.9,835.4l0-197.8 16.7,45.1 3.9,9.2 2.5,5.1 3.9,6.1 2.6,3.4 3.8,4.1 3.9,3 3.8,2 2.6,0.8 1.3,0.2 2.6-0.1 1.2-0.4 1.3-0.6 1.3-0.8 2.6-2.7 7.7-12.4 2.6-2.9 2.5-1.9 2.6-1.4 2.6-0.8 2.6-0.5 2.5-0.1 2.6,0.3 2.6,0.7 3.8,2 2.6,1.9 3.9,3.7 3.8,4.8 3.9,5.7 6.4,11.2 14.1,27.6 6.5,11.8 3.8,6.4 3.9,5.9 3.8,5.3 3.9,4.7 3.8,4.2 5.2,4.9 5.1,4.2 5.2,3.7 7.7,5.1 9,5.3 7.7,4.2 6.4,3.1 6.5,2.6 6.4,2.1 7.7,2 7.7,1.6 7.7,1.2 9,1 12.9,1.2 14.1,1 32.2,1.6 38.5,1.1 48.9,0.6 65.6,0.4" stroke="#0000f0"/>
<path d="M84.3,841.4l0-191.9 5.1,15.1 7.7,21.8 3.9,10.4 2.5,6.2 2.6,5.3 3.9,6.5 2.5,3.4 3.9,4.1 2.6,2 1.3,0.8 2.5,1 1.3,0.4 2.6,0.1 1.3-0.2 2.5-0.9 1.3-0.7 2.6-2.3 1.3-1.6 2.6-3.9 3.8-6.8 2.6-3.7 1.3-1.5 2.5-2.3 1.3-0.8 2.6-1.2 1.3-0.4 2.6-0.4 3.8,0.3 2.6,0.6 2.6,0.9 3.8,2.2 2.6,2.1 2.6,2.7 2.5,3.3 3.9,5.9 5.1,9 15.5,29.2 7.7,14 3.8,6.4 3.9,6 3.8,5.4 3.9,4.9 3.9,4.3 3.8,3.7 5.2,4.2 5.1,3.7 6.4,4 7.7,4.3 7.8,4 7.7,3.6 6.4,2.6 7.7,2.6 7.7,2 7.7,1.5 7.8,1.2 9,1 12.8,1.2 12.9,0.9 32.1,1.5 38.6,1 50.1,0.6 69.5,0.3 0,0.4z" fill="#fff"/>
<path d="M84.3,841.4l0-191.9 5.1,15.1 7.7,21.8 3.9,10.4 2.5,6.2 2.6,5.3 3.9,6.5 2.5,3.4 3.9,4.1 2.6,2 1.3,0.8 2.5,1 1.3,0.4 2.6,0.1 1.3-0.2 2.5-0.9 1.3-0.7 2.6-2.3 1.3-1.6 2.6-3.9 3.8-6.8 2.6-3.7 1.3-1.5 2.5-2.3 1.3-0.8 2.6-1.2 1.3-0.4 2.6-0.4 3.8,0.3 2.6,0.6 2.6,0.9 3.8,2.2 2.6,2.1 2.6,2.7 2.5,3.3 3.9,5.9 5.1,9 15.5,29.2 7.7,14 3.8,6.4 3.9,6 3.8,5.4 3.9,4.9 3.9,4.3 3.8,3.7 5.2,4.2 5.1,3.7 6.4,4 7.7,4.3 7.8,4 7.7,3.6 6.4,2.6 7.7,2.6 7.7,2 7.7,1.5 7.8,1.2 9,1 12.8,1.2 12.9,0.9 32.1,1.5 38.6,1 50.1,0.6 69.5,0.3" stroke="#0000f0"/>
<path d="M79.6,847.3l0-185.9 3.9,12.6 3.9,11.8 5.1,14.9 3.9,10.2 2.5,5.9 3.9,7.5 2.6,4 3.8,4.6 2.6,2.2 1.3,0.8 1.3,0.6 2.5,0.7 2.6-0.2 1.3-0.3 2.6-1.3 2.5-2.2 2.6-3.2 2.6-4 5.1-9.1 2.6-3.6 2.6-2.6 1.2-1 2.6-1.3 1.3-0.3 2.6-0.3 3.8,0.5 5.2,1.6 3.8,2 2.6,2.1 1.3,1.3 2.6,3.3 2.5,3.8 3.9,6.7 16.7,30.9 11.6,20.9 3.8,6.5 3.9,5.9 3.8,5.4 2.6,3.2 3.9,4.2 3.8,3.6 3.9,3.1 5.1,3.5 6.5,3.7 6.4,3.4 7.7,3.8 7.7,3.4 7.7,3 7.7,2.5 7.8,2 7.7,1.6 6.4,1 10.3,1.2 24.4,1.9 30.9,1.4 39.8,1 51.5,0.5 73.2,0.3 0,0.3z" fill="#fff"/>
<path d="M79.6,847.3l0-185.9 3.9,12.6 3.9,11.8 5.1,14.9 3.9,10.2 2.5,5.9 3.9,7.5 2.6,4 3.8,4.6 2.6,2.2 1.3,0.8 1.3,0.6 2.5,0.7 2.6-0.2 1.3-0.3 2.6-1.3 2.5-2.2 2.6-3.2 2.6-4 5.1-9.1 2.6-3.6 2.6-2.6 1.2-1 2.6-1.3 1.3-0.3 2.6-0.3 3.8,0.5 5.2,1.6 3.8,2 2.6,2.1 1.3,1.3 2.6,3.3 2.5,3.8 3.9,6.7 16.7,30.9 11.6,20.9 3.8,6.5 3.9,5.9 3.8,5.4 2.6,3.2 3.9,4.2 3.8,3.6 3.9,3.1 5.1,3.5 6.5,3.7 6.4,3.4 7.7,3.8 7.7,3.4 7.7,3 7.7,2.5 7.8,2 7.7,1.6 6.4,1 10.3,1.2 24.4,1.9 30.9,1.4 39.8,1 51.5,0.5 73.2,0.3" stroke="#0000f0"/>
<path d="M75,853.2l0-179.9 3.9,13.8 3.8,12.6 3.9,11.6 3.8,10.5 3.9,8.9 2.6,5 3.8,6 2.6,3 2.6,2.1 1.3,0.7 2.5,0.7 1.3,0 1.3-0.3 1.3-0.5 2.6-1.8 2.5-2.7 2.6-3.5 2.6-4.3 5.1-9.5 2.6-3.9 2.6-3 2.5-1.9 2.6-1 1.3-0.2 2.6,0.2 2.5,0.6 5.2,1.7 2.5,1.1 1.3,0.7 2.6,2.1 1.3,1.5 3.8,5.5 11.6,21.3 24.4,44.1 5.2,8.3 5.1,7 2.6,2.9 3.9,3.8 3.8,3.1 5.2,3.5 5.1,3 6.4,3.3 9,4.1 7.7,3.3 7.8,2.9 7.7,2.5 7.7,2 9,1.9 6.4,1 10.3,1.2 24.4,1.9 30.9,1.3 38.6,0.9 51.4,0.4 78.4,0.2 0,0.3z" fill="#fff"/>
<path d="M75,853.2l0-179.9 3.9,13.8 3.8,12.6 3.9,11.6 3.8,10.5 3.9,8.9 2.6,5 3.8,6 2.6,3 2.6,2.1 1.3,0.7 2.5,0.7 1.3,0 1.3-0.3 1.3-0.5 2.6-1.8 2.5-2.7 2.6-3.5 2.6-4.3 5.1-9.5 2.6-3.9 2.6-3 2.5-1.9 2.6-1 1.3-0.2 2.6,0.2 2.5,0.6 5.2,1.7 2.5,1.1 1.3,0.7 2.6,2.1 1.3,1.5 3.8,5.5 11.6,21.3 24.4,44.1 5.2,8.3 5.1,7 2.6,2.9 3.9,3.8 3.8,3.1 5.2,3.5 5.1,3 6.4,3.3 9,4.1 7.7,3.3 7.8,2.9 7.7,2.5 7.7,2 9,1.9 6.4,1 10.3,1.2 24.4,1.9 30.9,1.3 38.6,0.9 51.4,0.4 78.4,0.2" stroke="#3010e8"/>
<path d="M70.4,859.1l0-174 2.6,10.3 3.8,14 3.9,12.4 3.8,10.8 3.9,9.2 2.6,5.3 3.8,6.3 2.6,3.1 2.6,2 1.3,0.6 1.2,0.3 1.3,0 1.3-0.3 1.3-0.6 2.6-2.1 2.5-3.2 2.6-4.1 7.7-14.7 2.6-4.3 2.6-3.3 2.5-2.3 1.3-0.6 1.3-0.4 2.6,0 10.3,3.1 2.5,1.2 2.6,2.3 1.3,1.5 2.6,3.9 10.3,19.3 14.1,24.6 12.9,24.5 5.1,8.4 3.9,5.3 2.5,2.9 3.9,3.7 3.8,3.1 3.9,2.5 5.1,2.9 5.2,2.5 7.7,3.4 9,3.6 9,3.3 7.7,2.5 7.7,2.1 9,2 5.2,1 11.5,1.3 23.2,1.8 30.8,1.3 38.6,0.8 52.7,0.4 83.6,0.2 0,0.2z" fill="#fff"/>
<path d="M70.4,859.1l0-174 2.6,10.3 3.8,14 3.9,12.4 3.8,10.8 3.9,9.2 2.6,5.3 3.8,6.3 2.6,3.1 2.6,2 1.3,0.6 1.2,0.3 1.3,0 1.3-0.3 1.3-0.6 2.6-2.1 2.5-3.2 2.6-4.1 7.7-14.7 2.6-4.3 2.6-3.3 2.5-2.3 1.3-0.6 1.3-0.4 2.6,0 10.3,3.1 2.5,1.2 2.6,2.3 1.3,1.5 2.6,3.9 10.3,19.3 14.1,24.6 12.9,24.5 5.1,8.4 3.9,5.3 2.5,2.9 3.9,3.7 3.8,3.1 3.9,2.5 5.1,2.9 5.2,2.5 7.7,3.4 9,3.6 9,3.3 7.7,2.5 7.7,2.1 9,2 5.2,1 11.5,1.3 23.2,1.8 30.8,1.3 38.6,0.8 52.7,0.4 83.6,0.2" stroke="#00f000"/>
<path d="M65.8,865l0-166.7 7.7,26.4 3.9,11.9 2.5,7.1 3.9,9.2 2.6,5 2.5,3.8 2.6,2.6 1.3,0.8 1.3,0.6 1.3,0.2 1.2,0 1.3-0.4 1.3-0.6 2.6-2 2.6-2.9 2.5-3.6 7.7-12.8 3.9-5.9 2.6-3 2.5-2.2 2.6-1.3 1.3-0.3 2.6,0.1 3.8,1.1 5.2,2.6 2.5,1.7 2.6,2.4 2.6,3 2.6,3.8 3.8,6.5 30.9,54.5 6.4,10 5.1,6.7 3.9,4.1 3.8,3.6 3.9,3 3.9,2.7 5.1,3 5.1,2.6 6.5,2.9 7.7,3.1 9,3.1 9,2.8 9,2.4 9,1.9 6.4,0.9 10.3,1.1 21.9,1.7 30.8,1.3 38.6,0.8 52.7,0.3 83.6,0.2 0,0.2z" fill="#fff"/>
<path d="M65.8,865l0-166.7 7.7,26.4 3.9,11.9 2.5,7.1 3.9,9.2 2.6,5 2.5,3.8 2.6,2.6 1.3,0.8 1.3,0.6 1.3,0.2 1.2,0 1.3-0.4 1.3-0.6 2.6-2 2.6-2.9 2.5-3.6 7.7-12.8 3.9-5.9 2.6-3 2.5-2.2 2.6-1.3 1.3-0.3 2.6,0.1 3.8,1.1 5.2,2.6 2.5,1.7 2.6,2.4 2.6,3 2.6,3.8 3.8,6.5 30.9,54.5 6.4,10 5.1,6.7 3.9,4.1 3.8,3.6 3.9,3 3.9,2.7 5.1,3 5.1,2.6 6.5,2.9 7.7,3.1 9,3.1 9,2.8 9,2.4 9,1.9 6.4,0.9 10.3,1.1 21.9,1.7 30.8,1.3 38.6,0.8 52.7,0.3 83.6,0.2" stroke="#282000"/>
<path d="M61.2,870.9l0-159.5 10.2,32.4 3.9,11.1 2.6,6.4 2.5,5.2 2.6,3.9 1.3,1.4 1.3,1 1.3,0.6 1.3,0.3 1.2,0 1.3-0.4 2.6-1.7 2.6-2.6 2.5-3.4 7.8-12.1 3.8-5.6 3.9-4.6 2.5-2.2 1.3-0.9 2.6-1.3 1.3-0.4 2.6-0.2 2.5,0.4 1.3,0.4 2.6,1.3 2.6,1.8 3.8,3.6 3.9,4.6 3.8,5.3 3.9,5.9 3.8,6.4 15.5,27.2 6.4,10.8 7.7,11.6 3.9,5.2 3.8,4.7 3.9,4.2 5.1,5 3.9,3.2 5.1,3.8 5.2,3.1 5.1,2.7 6.4,2.9 6.5,2.4 7.7,2.5 10.3,3 9,2.4 9,2 7.7,1 10.3,1 20.5,1.5 30.9,1.2 38.6,0.8 52.7,0.4 83.6,0.1 0,0.2z" fill="#fff"/>
<path d="M61.2,870.9l0-159.5 10.2,32.4 3.9,11.1 2.6,6.4 2.5,5.2 2.6,3.9 1.3,1.4 1.3,1 1.3,0.6 1.3,0.3 1.2,0 1.3-0.4 2.6-1.7 2.6-2.6 2.5-3.4 7.8-12.1 3.8-5.6 3.9-4.6 2.5-2.2 1.3-0.9 2.6-1.3 1.3-0.4 2.6-0.2 2.5,0.4 1.3,0.4 2.6,1.3 2.6,1.8 3.8,3.6 3.9,4.6 3.8,5.3 3.9,5.9 3.8,6.4 15.5,27.2 6.4,10.8 7.7,11.6 3.9,5.2 3.8,4.7 3.9,4.2 5.1,5 3.9,3.2 5.1,3.8 5.2,3.1 5.1,2.7 6.4,2.9 6.5,2.4 7.7,2.5 10.3,3 9,2.4 9,2 7.7,1 10.3,1 20.5,1.5 30.9,1.2 38.6,0.8 52.7,0.4 83.6,0.1" stroke="#4c0008"/>
<path d="M56.5,876.8l0-155.2 9,27.9 5.2,14.6 2.6,6.1 2.5,4.9 2.6,3.6 1.3,1.2 1.3,0.9 1.3,0.5 1.2,0.1 1.3-0.2 1.3-0.6 2.6-2 2.6-3 2.5-3.9 10.3-17.4 3.9-5.2 2.5-2.5 2.6-1.8 1.3-0.6 2.6-0.7 2.5,0.2 1.3,0.3 2.6,1.2 2.6,1.9 3.8,3.7 3.9,4.8 3.8,5.5 7.8,12.3 15.4,27 7.7,12.8 7.7,11.5 3.9,5.1 3.8,4.7 3.9,4.2 5.1,4.9 3.9,3.3 5.1,3.7 5.2,3.2 5.1,2.6 5.2,2.3 6.4,2.5 7.7,2.5 10.3,2.8 10.3,2.5 9,1.9 18,1.9 20.5,1.4 30.9,1.2 38.6,0.7 52.7,0.4 84.8,0.1 0,0.2z" fill="#fff"/>
<path d="M56.5,876.8l0-155.2 9,27.9 5.2,14.6 2.6,6.1 2.5,4.9 2.6,3.6 1.3,1.2 1.3,0.9 1.3,0.5 1.2,0.1 1.3-0.2 1.3-0.6 2.6-2 2.6-3 2.5-3.9 10.3-17.4 3.9-5.2 2.5-2.5 2.6-1.8 1.3-0.6 2.6-0.7 2.5,0.2 1.3,0.3 2.6,1.2 2.6,1.9 3.8,3.7 3.9,4.8 3.8,5.5 7.8,12.3 15.4,27 7.7,12.8 7.7,11.5 3.9,5.1 3.8,4.7 3.9,4.2 5.1,4.9 3.9,3.3 5.1,3.7 5.2,3.2 5.1,2.6 5.2,2.3 6.4,2.5 7.7,2.5 10.3,2.8 10.3,2.5 9,1.9 18,1.9 20.5,1.4 30.9,1.2 38.6,0.7 52.7,0.4 84.8,0.1" stroke="#d80030"/>
<path d="M51.9,882.8l0-151 9,27.5 5.2,14 2.5,5.8 2.6,4.6 2.6,3.2 1.3,1.1 1.2,0.7 1.3,0.4 1.3-0.1 1.3-0.4 1.3-0.7 2.6-2.4 1.2-1.6 2.6-4 9-16.7 2.6-4.4 2.6-3.7 2.5-3 2.6-2 2.6-1.1 2.5-0.3 1.3,0.3 2.6,1 2.6,1.8 2.5,2.4 2.6,3 3.9,5.2 3.8,5.9 5.2,8.4 18,31 7.7,12.7 7.7,11.3 3.9,5.1 3.8,4.7 3.9,4.2 5.1,4.9 3.9,3.2 5.1,3.8 5.2,3.1 5.1,2.7 5.1,2.2 6.5,2.4 7.7,2.4 10.3,2.7 10.3,2.3 9,1.7 18,1.7 20.5,1.4 30.9,1.1 38.6,0.7 52.7,0.4 86.1,0.1 0,0.3z" fill="#fff"/>
<path d="M51.9,882.8l0-151 9,27.5 5.2,14 2.5,5.8 2.6,4.6 2.6,3.2 1.3,1.1 1.2,0.7 1.3,0.4 1.3-0.1 1.3-0.4 1.3-0.7 2.6-2.4 1.2-1.6 2.6-4 9-16.7 2.6-4.4 2.6-3.7 2.5-3 2.6-2 2.6-1.1 2.5-0.3 1.3,0.3 2.6,1 2.6,1.8 2.5,2.4 2.6,3 3.9,5.2 3.8,5.9 5.2,8.4 18,31 7.7,12.7 7.7,11.3 3.9,5.1 3.8,4.7 3.9,4.2 5.1,4.9 3.9,3.2 5.1,3.8 5.2,3.1 5.1,2.7 5.1,2.2 6.5,2.4 7.7,2.4 10.3,2.7 10.3,2.3 9,1.7 18,1.7 20.5,1.4 30.9,1.1 38.6,0.7 52.7,0.4 86.1,0.1" stroke="#d80030"/>
<path d="M47.3,888.7l0-146.7 9,27 2.6,7 2.5,6.4 2.6,5.5 2.6,4.3 2.6,2.9 1.2,0.9 1.3,0.6 1.3,0.2 1.3-0.3 1.3-0.5 1.3-1 2.5-2.8 1.3-1.8 2.6-4.5 10.3-20.6 2.6-4.2 2.5-3.3 2.6-2.3 1.3-0.8 1.3-0.5 1.3-0.2 1.2,0 1.3,0.2 1.3,0.5 2.6,1.6 1.3,1.1 2.5,2.8 2.6,3.3 2.6,3.8 6.4,10.4 19.3,33 7.7,12.8 5.2,8 3.8,5.5 3.9,5.2 3.8,4.8 3.9,4.3 5.1,5.1 3.9,3.4 5.1,3.9 5.2,3.2 5.1,2.8 6.4,2.8 6.5,2.3 7.7,2.3 9,2.2 10.3,2.2 9,1.5 18,1.8 23.1,1.4 30.9,1.1 39.8,0.7 52.7,0.3 84.9,0.1 0,0.3z" fill="#fff"/>
<path d="M47.3,888.7l0-146.7 9,27 2.6,7 2.5,6.4 2.6,5.5 2.6,4.3 2.6,2.9 1.2,0.9 1.3,0.6 1.3,0.2 1.3-0.3 1.3-0.5 1.3-1 2.5-2.8 1.3-1.8 2.6-4.5 10.3-20.6 2.6-4.2 2.5-3.3 2.6-2.3 1.3-0.8 1.3-0.5 1.3-0.2 1.2,0 1.3,0.2 1.3,0.5 2.6,1.6 1.3,1.1 2.5,2.8 2.6,3.3 2.6,3.8 6.4,10.4 19.3,33 7.7,12.8 5.2,8 3.8,5.5 3.9,5.2 3.8,4.8 3.9,4.3 5.1,5.1 3.9,3.4 5.1,3.9 5.2,3.2 5.1,2.8 6.4,2.8 6.5,2.3 7.7,2.3 9,2.2 10.3,2.2 9,1.5 18,1.8 23.1,1.4 30.9,1.1 39.8,0.7 52.7,0.3 84.9,0.1" stroke="#00603a"/>
<path d="M42.7,894.6l0-142.4 9,26.4 2.6,6.8 2.5,6.1 2.6,5.2 2.6,3.9 1.3,1.5 1.2,1.1 1.3,0.8 1.3,0.4 1.3,0 1.3-0.4 1.3-0.8 1.3-1.1 2.5-3.3 3.9-7.1 9-19.8 2.6-4.7 2.5-3.7 2.6-2.6 1.3-0.9 1.3-0.6 1.3-0.2 1.2,0 1.3,0.2 2.6,1.4 1.3,1 2.6,2.7 3.8,5.4 3.9,6.3 20.5,35.4 10.3,17.1 9,13.6 5.2,7 3.8,4.7 3.9,4.4 5.1,5.1 5.2,4.3 5.1,3.7 5.1,3.1 5.2,2.6 5.1,2.2 6.5,2.2 7.7,2.2 7.7,1.8 10.3,2 10.3,1.6 19.2,1.8 23.2,1.3 30.8,1 39.9,0.6 52.7,0.3 84.9,0.2 0,0.2z" fill="#fff"/>
<path d="M42.7,894.6l0-142.4 9,26.4 2.6,6.8 2.5,6.1 2.6,5.2 2.6,3.9 1.3,1.5 1.2,1.1 1.3,0.8 1.3,0.4 1.3,0 1.3-0.4 1.3-0.8 1.3-1.1 2.5-3.3 3.9-7.1 9-19.8 2.6-4.7 2.5-3.7 2.6-2.6 1.3-0.9 1.3-0.6 1.3-0.2 1.2,0 1.3,0.2 2.6,1.4 1.3,1 2.6,2.7 3.8,5.4 3.9,6.3 20.5,35.4 10.3,17.1 9,13.6 5.2,7 3.8,4.7 3.9,4.4 5.1,5.1 5.2,4.3 5.1,3.7 5.1,3.1 5.2,2.6 5.1,2.2 6.5,2.2 7.7,2.2 7.7,1.8 10.3,2 10.3,1.6 19.2,1.8 23.2,1.3 30.8,1 39.9,0.6 52.7,0.3 84.9,0.2" stroke="#0000f0"/>
<path d="M38.1,900.5l0-138.1 7.7,22.4 3.8,10 2.6,5.7 2.6,4.8 2.5,3.7 1.3,1.3 1.3,1 1.3,0.6 1.3,0.2 1.3-0.2 1.3-0.6 1.2-0.9 1.3-1.4 2.6-3.8 3.9-7.9 7.7-18.6 2.5-5.3 2.6-4.2 2.6-2.9 1.3-1 1.3-0.6 1.2-0.3 1.3,0 1.3,0.3 1.3,0.6 1.3,0.9 2.6,2.5 3.8,5.4 2.6,4.3 14.1,25.5 10.3,17.3 9,14.7 9,13.5 7.7,10.2 5.2,5.8 3.8,3.9 5.2,4.5 5.1,3.8 5.2,3.2 5.1,2.7 6.4,2.7 6.5,2.2 7.7,2.1 7.7,1.7 10.3,1.7 10.3,1.5 20.5,1.7 23.2,1.2 30.8,1 39.9,0.5 52.7,0.3 84.9,0.2 0,0.2z" fill="#fff"/>
<path d="M38.1,900.5l0-138.1 7.7,22.4 3.8,10 2.6,5.7 2.6,4.8 2.5,3.7 1.3,1.3 1.3,1 1.3,0.6 1.3,0.2 1.3-0.2 1.3-0.6 1.2-0.9 1.3-1.4 2.6-3.8 3.9-7.9 7.7-18.6 2.5-5.3 2.6-4.2 2.6-2.9 1.3-1 1.3-0.6 1.2-0.3 1.3,0 1.3,0.3 1.3,0.6 1.3,0.9 2.6,2.5 3.8,5.4 2.6,4.3 14.1,25.5 10.3,17.3 9,14.7 9,13.5 7.7,10.2 5.2,5.8 3.8,3.9 5.2,4.5 5.1,3.8 5.2,3.2 5.1,2.7 6.4,2.7 6.5,2.2 7.7,2.1 7.7,1.7 10.3,1.7 10.3,1.5 20.5,1.7 23.2,1.2 30.8,1 39.9,0.5 52.7,0.3 84.9,0.2" stroke="#d80030"/>
<path d="M33.4,906.4l0-133.8 3.9,11.4 3.9,10.6 3.8,9.4 2.6,5.5 2.6,4.5 2.5,3.3 1.3,1.2 1.3,0.8 1.3,0.4 1.3,0.1 1.3-0.4 1.2-0.8 1.3-1.2 1.3-1.7 2.6-4.3 3.8-8.8 7.8-19.9 2.5-5.4 1.3-2.2 2.6-3.3 1.3-1.1 1.3-0.8 1.2-0.3 1.3-0.1 1.3,0.4 1.3,0.6 1.3,1 1.3,1.3 2.5,3.3 3.9,6.5 11.6,22.1 10.3,17.6 10.2,16.7 6.5,10 6.4,9.3 5.1,6.7 5.2,6.1 3.8,4 3.9,3.6 5.1,4.1 5.2,3.5 5.1,2.9 5.2,2.4 5.1,1.9 6.4,2.1 7.8,1.8 9,1.7 10.2,1.5 7.8,1 11.5,0.9 27,1.6 32.2,1 41.1,0.6 54,0.4 87.4,0.1 0,0.2z" fill="#fff"/>
<path d="M33.4,906.4l0-133.8 3.9,11.4 3.9,10.6 3.8,9.4 2.6,5.5 2.6,4.5 2.5,3.3 1.3,1.2 1.3,0.8 1.3,0.4 1.3,0.1 1.3-0.4 1.2-0.8 1.3-1.2 1.3-1.7 2.6-4.3 3.8-8.8 7.8-19.9 2.5-5.4 1.3-2.2 2.6-3.3 1.3-1.1 1.3-0.8 1.2-0.3 1.3-0.1 1.3,0.4 1.3,0.6 1.3,1 1.3,1.3 2.5,3.3 3.9,6.5 11.6,22.1 10.3,17.6 10.2,16.7 6.5,10 6.4,9.3 5.1,6.7 5.2,6.1 3.8,4 3.9,3.6 5.1,4.1 5.2,3.5 5.1,2.9 5.2,2.4 5.1,1.9 6.4,2.1 7.8,1.8 9,1.7 10.2,1.5 7.8,1 11.5,0.9 27,1.6 32.2,1 41.1,0.6 54,0.4 87.4,0.1" stroke="#282000"/>
<path d="M28.8,912.3l0-129.5 3.9,11.2 3.8,10.3 3.9,9 2.6,5.1 2.5,4.2 2.6,3 1.3,1 1.3,0.6 1.3,0.3 1.2-0.2 1.3-0.6 1.3-1 1.3-1.5 1.3-1.9 2.6-4.9 2.5-6.3 7.7-21.5 2.6-6 1.3-2.5 2.6-3.8 1.3-1.2 1.2-0.9 1.3-0.4 1.3-0.1 1.3,0.4 1.3,0.7 1.3,1 1.3,1.4 2.5,3.6 3.9,7.1 10.3,21 6.4,11.4 10.3,16.8 9,14.2 6.4,9.5 6.4,8.7 5.2,6.2 3.8,4.1 3.9,3.7 5.1,4.3 5.2,3.6 5.1,3 5.2,2.5 5.1,2 6.4,2.1 6.5,1.5 7.7,1.5 9,1.3 11.6,1.3 10.2,0.8 14.2,1 15.4,0.7 32.2,1 41.1,0.6 55.3,0.3 87.4,0.1 0,0.2z" fill="#fff"/>
<path d="M28.8,912.3l0-129.5 3.9,11.2 3.8,10.3 3.9,9 2.6,5.1 2.5,4.2 2.6,3 1.3,1 1.3,0.6 1.3,0.3 1.2-0.2 1.3-0.6 1.3-1 1.3-1.5 1.3-1.9 2.6-4.9 2.5-6.3 7.7-21.5 2.6-6 1.3-2.5 2.6-3.8 1.3-1.2 1.2-0.9 1.3-0.4 1.3-0.1 1.3,0.4 1.3,0.7 1.3,1 1.3,1.4 2.5,3.6 3.9,7.1 10.3,21 6.4,11.4 10.3,16.8 9,14.2 6.4,9.5 6.4,8.7 5.2,6.2 3.8,4.1 3.9,3.7 5.1,4.3 5.2,3.6 5.1,3 5.2,2.5 5.1,2 6.4,2.1 6.5,1.5 7.7,1.5 9,1.3 11.6,1.3 10.2,0.8 14.2,1 15.4,0.7 32.2,1 41.1,0.6 55.3,0.3 87.4,0.1" stroke="#00f000"/>
<path d="M24.2,918.2l0-125.2 3.9,11.1 2.5,6.7 3.9,9 2.6,5.1 2.5,4.4 2.6,3.3 1.3,1.2 1.3,0.8 1.3,0.5 1.2,0.1 1.3-0.4 1.3-0.8 1.3-1.3 1.3-1.8 2.6-4.8 3.8-10 6.4-19.4 2.6-6.7 1.3-2.8 2.6-4.2 1.3-1.5 1.2-1 1.3-0.5 1.3-0.1 1.3,0.3 1.3,0.8 1.3,1.1 2.5,3.3 3.9,7.1 10.3,22.4 6.4,11.9 6.4,10.5 14.2,22.1 6.4,9.5 6.4,8.7 5.2,6.2 3.8,4.1 3.9,3.7 5.1,4.3 5.2,3.5 5.1,3 5.2,2.4 5.1,2 6.4,1.9 6.5,1.5 6.4,1.1 7.7,1.1 12.9,1.2 12.8,1 29.6,1.6 32.1,0.8 41.2,0.6 55.3,0.3 87.4,0.1 0,0.2z" fill="#fff"/>
<path d="M24.2,918.2l0-125.2 3.9,11.1 2.5,6.7 3.9,9 2.6,5.1 2.5,4.4 2.6,3.3 1.3,1.2 1.3,0.8 1.3,0.5 1.2,0.1 1.3-0.4 1.3-0.8 1.3-1.3 1.3-1.8 2.6-4.8 3.8-10 6.4-19.4 2.6-6.7 1.3-2.8 2.6-4.2 1.3-1.5 1.2-1 1.3-0.5 1.3-0.1 1.3,0.3 1.3,0.8 1.3,1.1 2.5,3.3 3.9,7.1 10.3,22.4 6.4,11.9 6.4,10.5 14.2,22.1 6.4,9.5 6.4,8.7 5.2,6.2 3.8,4.1 3.9,3.7 5.1,4.3 5.2,3.5 5.1,3 5.2,2.4 5.1,2 6.4,1.9 6.5,1.5 6.4,1.1 7.7,1.1 12.9,1.2 12.8,1 29.6,1.6 32.1,0.8 41.2,0.6 55.3,0.3 87.4,0.1" stroke="#8a6418"/>
</g>
<path d="M21.8,921.3H471.8L614,737.5V536H164L21.8,719.8Z" fill="none" stroke="#0c1214" stroke-width="1.5" stroke-linejoin="miter"/>
<line x1="21.8" y1="921.3" x2="21.8" y2="926.6" stroke="#111" stroke-width="1.1"/>
<text x="21.8" y="950" font-size="25" text-anchor="middle">300</text>
<line x1="34.7" y1="921.3" x2="34.7" y2="924.1" stroke="#111" stroke-width="1.1"/>
<line x1="47.5" y1="921.3" x2="47.5" y2="924.1" stroke="#111" stroke-width="1.1"/>
<line x1="60.4" y1="921.3" x2="60.4" y2="924.1" stroke="#111" stroke-width="1.1"/>
<line x1="73.2" y1="921.3" x2="73.2" y2="924.1" stroke="#111" stroke-width="1.1"/>
<line x1="86.1" y1="921.3" x2="86.1" y2="926.6" stroke="#111" stroke-width="1.1"/>
<text x="86.1" y="950" font-size="25" text-anchor="middle">350</text>
<line x1="98.9" y1="921.3" x2="98.9" y2="924.1" stroke="#111" stroke-width="1.1"/>
<line x1="111.8" y1="921.3" x2="111.8" y2="924.1" stroke="#111" stroke-width="1.1"/>
<line x1="124.7" y1="921.3" x2="124.7" y2="924.1" stroke="#111" stroke-width="1.1"/>
<line x1="137.5" y1="921.3" x2="137.5" y2="924.1" stroke="#111" stroke-width="1.1"/>
<line x1="150.4" y1="921.3" x2="150.4" y2="926.6" stroke="#111" stroke-width="1.1"/>
<text x="150.4" y="950" font-size="25" text-anchor="middle">400</text>
<line x1="163.2" y1="921.3" x2="163.2" y2="924.1" stroke="#111" stroke-width="1.1"/>
<line x1="176.1" y1="921.3" x2="176.1" y2="924.1" stroke="#111" stroke-width="1.1"/>
<line x1="188.9" y1="921.3" x2="188.9" y2="924.1" stroke="#111" stroke-width="1.1"/>
<line x1="201.8" y1="921.3" x2="201.8" y2="924.1" stroke="#111" stroke-width="1.1"/>
<line x1="214.7" y1="921.3" x2="214.7" y2="926.6" stroke="#111" stroke-width="1.1"/>
<text x="214.7" y="950" font-size="25" text-anchor="middle">450</text>
<line x1="227.5" y1="921.3" x2="227.5" y2="924.1" stroke="#111" stroke-width="1.1"/>
<line x1="240.4" y1="921.3" x2="240.4" y2="924.1" stroke="#111" stroke-width="1.1"/>
<line x1="253.2" y1="921.3" x2="253.2" y2="924.1" stroke="#111" stroke-width="1.1"/>
<line x1="266.1" y1="921.3" x2="266.1" y2="924.1" stroke="#111" stroke-width="1.1"/>
<line x1="278.9" y1="921.3" x2="278.9" y2="926.6" stroke="#111" stroke-width="1.1"/>
<text x="278.9" y="950" font-size="25" text-anchor="middle">500</text>
<line x1="291.8" y1="921.3" x2="291.8" y2="924.1" stroke="#111" stroke-width="1.1"/>
<line x1="304.7" y1="921.3" x2="304.7" y2="924.1" stroke="#111" stroke-width="1.1"/>
<line x1="317.5" y1="921.3" x2="317.5" y2="924.1" stroke="#111" stroke-width="1.1"/>
<line x1="330.4" y1="921.3" x2="330.4" y2="924.1" stroke="#111" stroke-width="1.1"/>
<line x1="343.2" y1="921.3" x2="343.2" y2="926.6" stroke="#111" stroke-width="1.1"/>
<text x="343.2" y="950" font-size="25" text-anchor="middle">550</text>
<line x1="356.1" y1="921.3" x2="356.1" y2="924.1" stroke="#111" stroke-width="1.1"/>
<line x1="368.9" y1="921.3" x2="368.9" y2="924.1" stroke="#111" stroke-width="1.1"/>
<line x1="381.8" y1="921.3" x2="381.8" y2="924.1" stroke="#111" stroke-width="1.1"/>
<line x1="394.7" y1="921.3" x2="394.7" y2="924.1" stroke="#111" stroke-width="1.1"/>
<line x1="407.5" y1="921.3" x2="407.5" y2="926.6" stroke="#111" stroke-width="1.1"/>
<text x="407.5" y="950" font-size="25" text-anchor="middle">600</text>
<line x1="420.4" y1="921.3" x2="420.4" y2="924.1" stroke="#111" stroke-width="1.1"/>
<line x1="433.2" y1="921.3" x2="433.2" y2="924.1" stroke="#111" stroke-width="1.1"/>
<line x1="446.1" y1="921.3" x2="446.1" y2="924.1" stroke="#111" stroke-width="1.1"/>
<line x1="458.9" y1="921.3" x2="458.9" y2="924.1" stroke="#111" stroke-width="1.1"/>
<line x1="471.8" y1="921.3" x2="471.8" y2="926.6" stroke="#111" stroke-width="1.1"/>
<text x="471.8" y="950" font-size="25" text-anchor="middle">650</text>
<text x="613.7" y="752.8" font-size="19.3">0 mM</text>
<text x="537.3" y="852.5" font-size="19.3">1.3 mM</text>
<text x="477.7" y="925.9" font-size="19.3">2.5 mM</text>
<line x1="422" y1="697.9" x2="235.4" y2="734.8" stroke="#000" stroke-width="2.8" stroke-dasharray="13 12.5"/>
<path d="M220.4,737.8L238.2,727L235.4,734.8L240.9,741Z" fill="#000"/>
<line x1="217.8" y1="738.8" x2="122.9" y2="812" stroke="#000" stroke-width="2.8" stroke-dasharray="13 12.5"/>
<path d="M110.8,821.3L121.9,803.8L122.9,812L130.6,815Z" fill="#000"/>
<text transform="translate(31.3,566) scale(1.05,1.03)" font-size="45">b</text>
<text transform="translate(641,628.2) rotate(-90)" font-size="25" text-anchor="middle">absorbance (a.u)</text>
<text x="254.7" y="978.9" font-size="25" text-anchor="middle">wavelength (nm)</text>
</svg>
</body></html>
